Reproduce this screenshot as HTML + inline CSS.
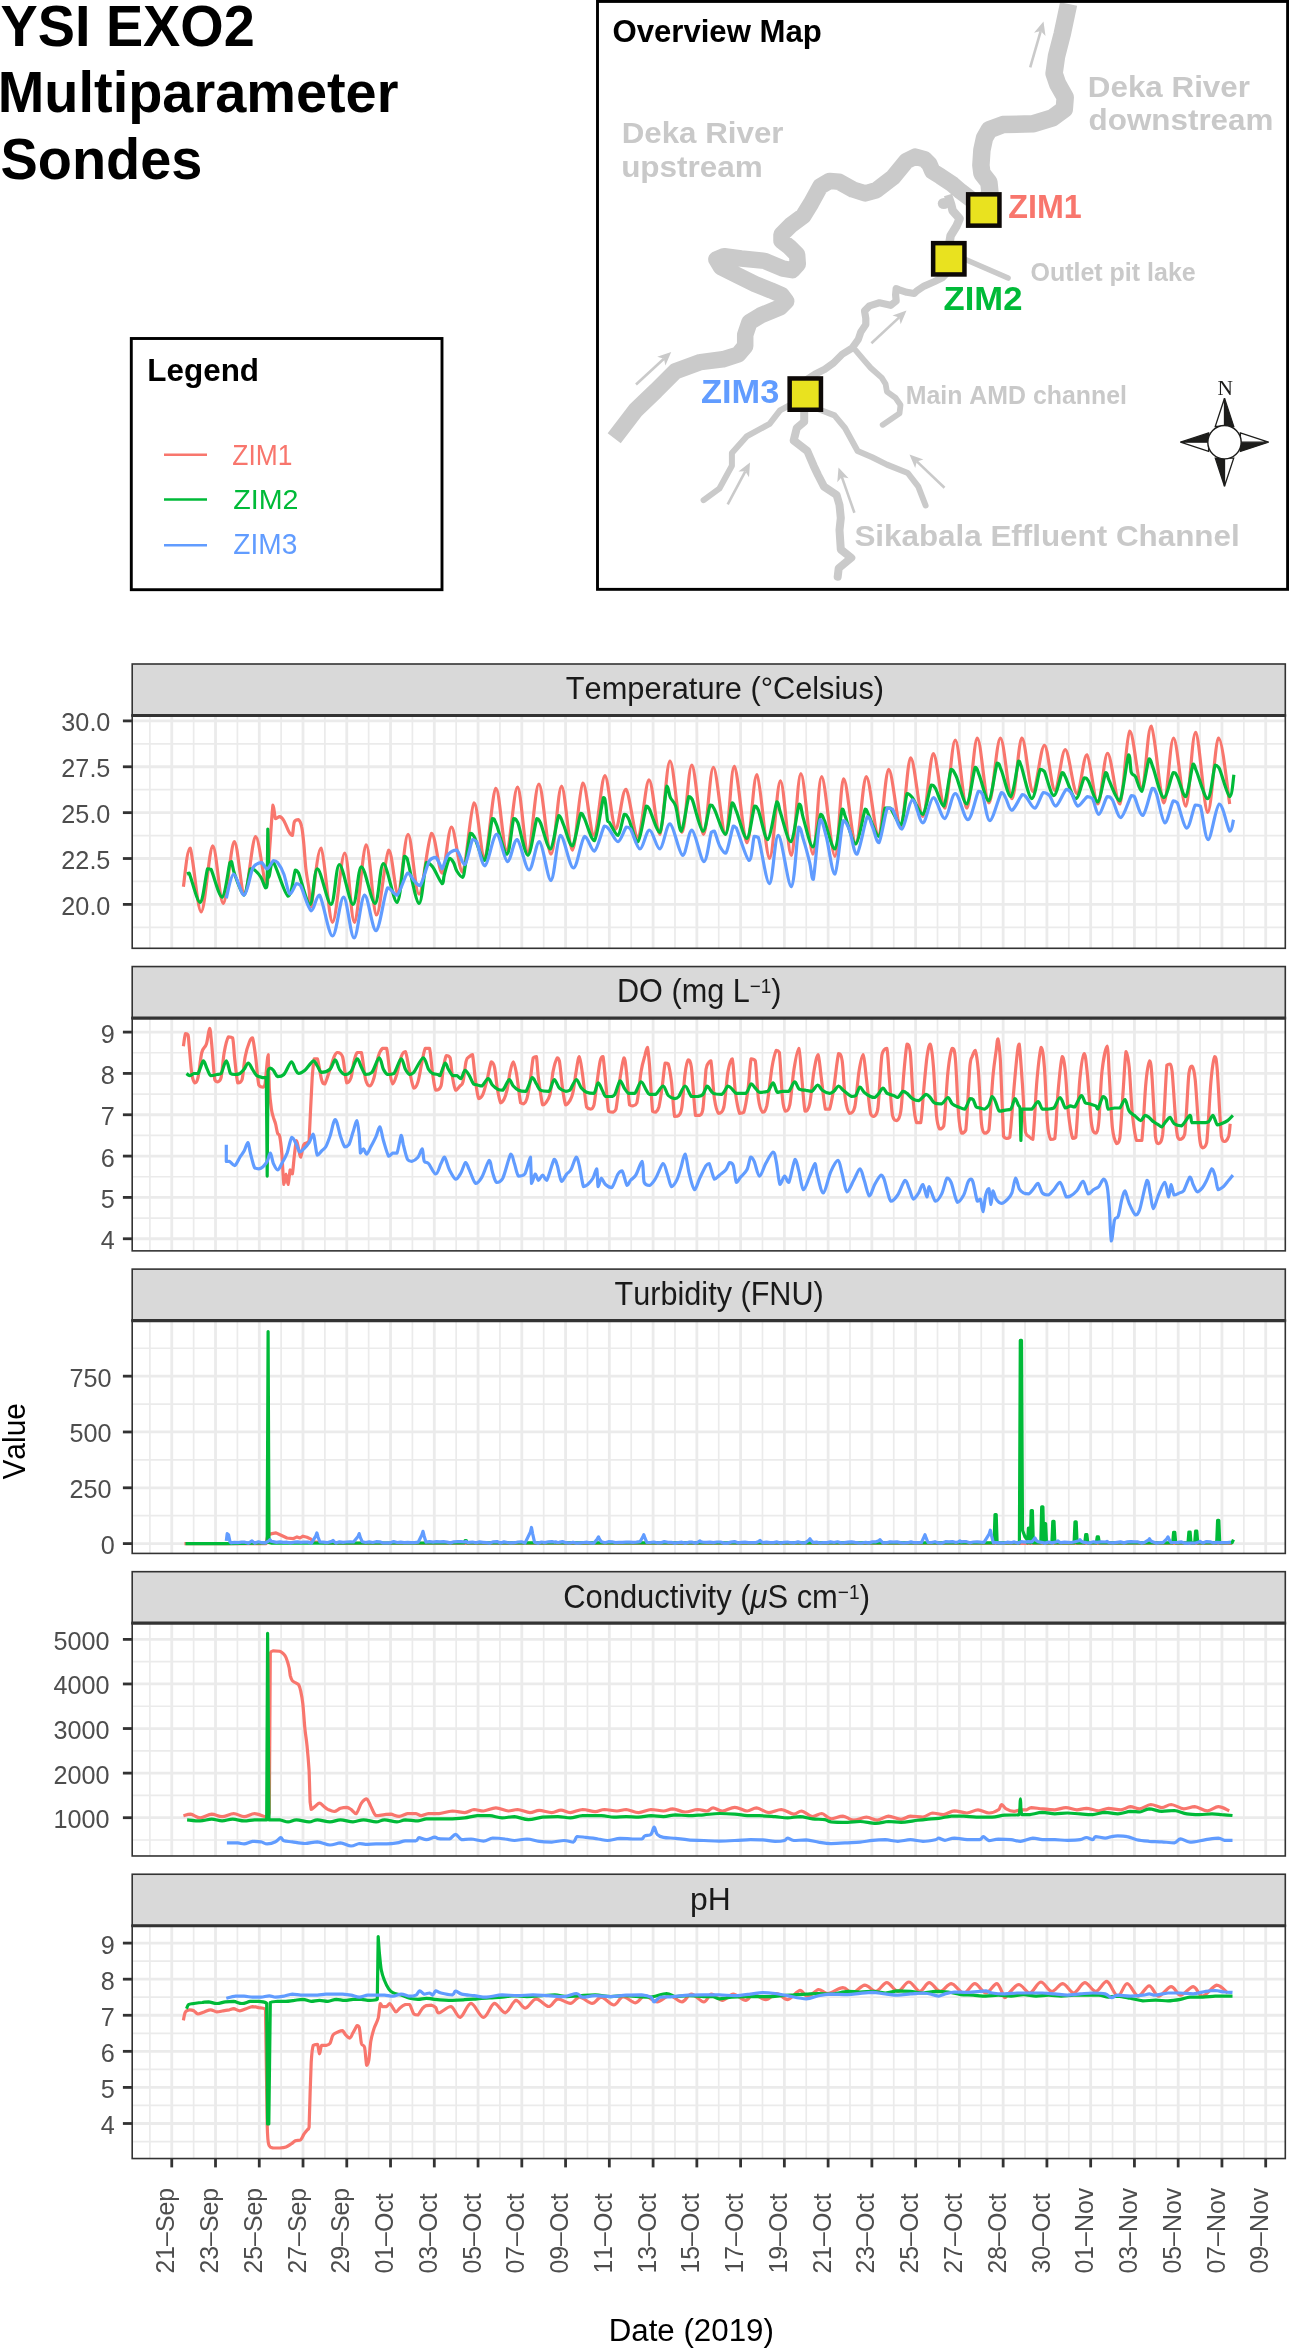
<!DOCTYPE html><html><head><meta charset="utf-8"><style>html,body{margin:0;padding:0;background:#fff;width:1289px;height:2348px;overflow:hidden}svg{display:block;will-change:transform}text{font-family:"Liberation Sans",sans-serif;font-kerning:none}</style></head><body>
<svg width="1289" height="2348" viewBox="0 0 1289 2348">
<defs>
<clipPath id="clip0"><rect x="132.20" y="715.50" width="1153.10" height="232.80"/></clipPath>
<clipPath id="clip1"><rect x="132.20" y="1018.06" width="1153.10" height="232.80"/></clipPath>
<clipPath id="clip2"><rect x="132.20" y="1320.62" width="1153.10" height="232.80"/></clipPath>
<clipPath id="clip3"><rect x="132.20" y="1623.18" width="1153.10" height="232.80"/></clipPath>
<clipPath id="clip4"><rect x="132.20" y="1925.74" width="1153.10" height="232.80"/></clipPath>
</defs>
<rect width="1289" height="2348" fill="#fff"/>
<text transform="translate(0.50,45.60) scale(1,1.040)" font-size="55.80" font-weight="bold" fill="#000" text-anchor="start" >YSI EXO2</text>
<text transform="translate(-2.20,112.40) scale(1,1.040)" font-size="55.90" font-weight="bold" fill="#000" text-anchor="start" >Multiparameter</text>
<text transform="translate(0.50,179.20) scale(1,1.040)" font-size="55.90" font-weight="bold" fill="#000" text-anchor="start" >Sondes</text>
<rect x="131.3" y="338.5" width="310.7" height="251.2" fill="none" stroke="#000" stroke-width="2.9"/>
<text transform="translate(147.30,381.30) scale(0.9967,1)" font-size="31.54" font-weight="bold" fill="#000" >Legend</text>
<line x1="164" y1="454.7" x2="207" y2="454.7" stroke="#F8766D" stroke-width="2.6"/>
<line x1="164" y1="499.5" x2="207" y2="499.5" stroke="#00BA38" stroke-width="2.6"/>
<line x1="164" y1="545.3" x2="207" y2="545.3" stroke="#619CFF" stroke-width="2.6"/>
<text transform="translate(232.26,464.90) scale(0.8773,1)" font-size="30.09" fill="#F8766D" >ZIM1</text>
<text transform="translate(233.29,508.90) scale(1.0539,1)" font-size="27.18" fill="#00BA38" >ZIM2</text>
<text transform="translate(233.31,553.90) scale(0.9574,1)" font-size="29.36" fill="#619CFF" >ZIM3</text>
<g id="map">
<path d="M614.2 438.2 L635.6 410.3 L655.9 390.8 L675.4 371.2 L700.5 362.1 L722.9 359.3 L738.2 354.5 L745.2 346.1 L745.2 334.9 L749.4 322.3 L760.6 315.4 L780.0 307.4 L786.2 301.2 L781.5 295.0 L770.7 290.3 L755.2 284.1 L736.5 274.8 L721.0 267.1 L716.4 259.3 L724.1 256.2 L741.2 258.5 L764.5 260.9 L783.1 268.6 L792.4 270.2 L797.8 264.0 L797.1 254.6 L789.3 246.9 L781.5 240.7 L781.5 234.5 L790.9 225.2 L803.3 215.9 L811.0 203.4 L820.3 186.4 L829.6 180.9 L839.0 181.7 L852.9 189.5 L865.3 193.4 L876.2 190.3 L893.1 177.3 L906.2 161.2 L915.3 156.6 L924.4 159.2 L929.4 164.2 L932.4 171.3 L940.5 176.3 L952.6 184.4 L960.7 191.4 L972.0 200.0" fill="none" stroke="#CACACA" stroke-width="16.5" stroke-linejoin="round" stroke-linecap="butt"/>
<path d="M985.0 205.0 L989.9 192.1 L988.9 182.4 L981.9 173.3 L980.9 165.2 L981.9 150.1 L984.5 138.0 L989.2 129.7 L1002.9 124.6 L1033.6 123.7 L1052.4 117.8 L1064.3 109.2 L1065.2 97.3 L1057.5 83.6 L1054.1 73.4 L1056.5 56.3 L1062.2 34.1 L1068.6 4.0" fill="none" stroke="#CACACA" stroke-width="17.5" stroke-linejoin="round" stroke-linecap="butt"/>
<path d="M948.0 195.0 L951.0 204.0 L952.6 210.6 L959.7 218.7 L956.7 225.7 L950.6 235.8 L949.6 242.0" fill="none" stroke="#CACACA" stroke-width="8.5" stroke-linejoin="round"/>
<ellipse cx="943.8" cy="203.5" rx="6" ry="5.6" fill="#CACACA"/>
<path d="M962 258 L1008.1 278.1" stroke="#CACACA" stroke-width="5.5" stroke-linecap="round" fill="none"/>
<path d="M946.0 274.0 L942.8 277.4 L934.1 281.7 L924.1 286.1 L916.7 291.0 L914.2 293.5 L906.8 292.3 L899.3 289.8 L896.2 288.6 L895.6 294.8 L896.2 301.0 L890.6 305.3 L879.4 302.8 L869.5 305.9 L864.5 310.9 L865.8 318.3 L865.8 324.5 L860.8 332.0 L858.3 339.4 L852.1 348.1 L842.2 354.3 L833.5 363.0 L824.8 369.2 L814.9 374.2 L806.0 380.0" fill="none" stroke="#CACACA" stroke-width="7.2" stroke-linejoin="round" stroke-linecap="round"/>
<path d="M855.9 350.6 L863.3 359.3 L870.8 368.0 L881.9 377.9 L885.6 384.1 L886.9 391.6 L895.6 397.8 L900.5 405.0 L899.5 413.3 L882.7 424.8" fill="none" stroke="#CACACA" stroke-width="5.8" stroke-linejoin="round" stroke-linecap="round"/>
<path d="M792.0 404.0 L780.0 410.3 L769.6 423.8 L746.6 436.4 L731.9 453.1 L731.9 465.7 L719.3 488.7 L703.6 500.2" fill="none" stroke="#CACACA" stroke-width="6.0" stroke-linejoin="round" stroke-linecap="round"/>
<path d="M804.2 410.0 L804.2 421.7 L796.8 428.0 L793.7 440.5 L807.3 451.0 L813.6 465.7 L818.0 475.0 L824.0 486.6 L836.6 495.0 L839.5 505.0 L840.8 518.0 L839.5 530.0 L840.8 549.5 L851.3 557.8 L838.7 568.3 L837.7 576.7" fill="none" stroke="#CACACA" stroke-width="8.0" stroke-linejoin="round" stroke-linecap="round"/>
<path d="M818.0 409.0 L834.5 415.4 L845.0 428.0 L857.6 451.0 L872.2 457.3 L886.9 464.6 L907.8 473.0 L918.3 486.6 L925.6 505.5" fill="none" stroke="#CACACA" stroke-width="6.0" stroke-linejoin="round" stroke-linecap="round"/>
<line x1="636.0" y1="384.5" x2="663.9" y2="358.8" stroke="#CACACA" stroke-width="2.6"/><path d="M671.2 352.0 L665.4 365.6 L663.9 358.8 L657.2 356.7Z" fill="#CACACA"/>
<line x1="1030.2" y1="67.4" x2="1040.7" y2="31.1" stroke="#CACACA" stroke-width="2.6"/><path d="M1043.5 21.5 L1045.5 36.1 L1040.7 31.1 L1034.0 32.8Z" fill="#CACACA"/>
<line x1="871.4" y1="343.2" x2="899.2" y2="317.4" stroke="#CACACA" stroke-width="2.6"/><path d="M906.5 310.6 L900.7 324.2 L899.2 317.4 L892.5 315.4Z" fill="#CACACA"/>
<line x1="727.7" y1="504.4" x2="745.3" y2="471.3" stroke="#CACACA" stroke-width="2.6"/><path d="M750.0 462.5 L749.0 477.2 L745.3 471.3 L738.4 471.6Z" fill="#CACACA"/>
<line x1="854.4" y1="512.8" x2="841.8" y2="476.9" stroke="#CACACA" stroke-width="2.6"/><path d="M838.5 467.5 L848.6 478.3 L841.8 476.9 L837.3 482.2Z" fill="#CACACA"/>
<line x1="944.5" y1="487.7" x2="916.8" y2="461.4" stroke="#CACACA" stroke-width="2.6"/><path d="M909.5 454.5 L923.4 459.4 L916.8 461.4 L915.2 468.1Z" fill="#CACACA"/>
<rect x="968.15" y="194.35" width="31.3" height="31.3" fill="#E9E21F" stroke="#0D0907" stroke-width="4.5"/>
<rect x="933.15" y="243.15" width="31.3" height="31.3" fill="#E9E21F" stroke="#0D0907" stroke-width="4.5"/>
<rect x="789.65" y="378.45" width="31.3" height="31.3" fill="#E9E21F" stroke="#0D0907" stroke-width="4.5"/>
<text transform="translate(621.71,143.10) scale(1.0508,1)" font-size="29.80" font-weight="bold" fill="#C9C9C9" >Deka River</text>
<text transform="translate(621.15,176.80) scale(1.0565,1)" font-size="29.80" font-weight="bold" fill="#C9C9C9">upstream</text>
<text transform="translate(1087.80,97.10) scale(1.0579,1)" font-size="29.65" font-weight="bold" fill="#C9C9C9" >Deka River</text>
<text transform="translate(1088.61,129.90) scale(1.0583,1)" font-size="29.65" font-weight="bold" fill="#C9C9C9">downstream</text>
<text transform="translate(1030.47,280.80) scale(0.9941,1)" font-size="25.15" font-weight="bold" fill="#C9C9C9" >Outlet pit lake</text>
<text transform="translate(905.73,404.40) scale(0.9569,1)" font-size="26.02" font-weight="bold" fill="#C9C9C9" >Main AMD channel</text>
<text transform="translate(854.40,546.00) scale(1.0585,1)" font-size="29.65" font-weight="bold" fill="#C9C9C9" >Sikabala Effluent Channel</text>
<text transform="translate(1008.24,217.80) scale(0.9831,1)" font-size="32.85" font-weight="bold" fill="#F8766D" >ZIM1</text>
<text transform="translate(943.57,310.40) scale(1.0641,1)" font-size="32.56" font-weight="bold" fill="#00BA38" >ZIM2</text>
<text transform="translate(700.98,403.00) scale(1.0520,1)" font-size="32.70" font-weight="bold" fill="#619CFF" >ZIM3</text>
<path d="M1224.50 398.20 L1233.70 426.30 L1224.50 426.30Z" fill="#1D1D1B" stroke="#1D1D1B" stroke-width="1.3" stroke-linejoin="miter"/>
<path d="M1224.50 398.20 L1215.30 426.30 L1224.50 426.30Z" fill="#fff" stroke="#1D1D1B" stroke-width="1.3" stroke-linejoin="miter"/>
<path d="M1268.50 442.20 L1240.40 451.40 L1240.40 442.20Z" fill="#1D1D1B" stroke="#1D1D1B" stroke-width="1.3" stroke-linejoin="miter"/>
<path d="M1268.50 442.20 L1240.40 433.00 L1240.40 442.20Z" fill="#fff" stroke="#1D1D1B" stroke-width="1.3" stroke-linejoin="miter"/>
<path d="M1224.50 486.20 L1215.30 458.10 L1224.50 458.10Z" fill="#1D1D1B" stroke="#1D1D1B" stroke-width="1.3" stroke-linejoin="miter"/>
<path d="M1224.50 486.20 L1233.70 458.10 L1224.50 458.10Z" fill="#fff" stroke="#1D1D1B" stroke-width="1.3" stroke-linejoin="miter"/>
<path d="M1180.50 442.20 L1208.60 433.00 L1208.60 442.20Z" fill="#1D1D1B" stroke="#1D1D1B" stroke-width="1.3" stroke-linejoin="miter"/>
<path d="M1180.50 442.20 L1208.60 451.40 L1208.60 442.20Z" fill="#fff" stroke="#1D1D1B" stroke-width="1.3" stroke-linejoin="miter"/>
<circle cx="1224.5" cy="442.2" r="16.7" fill="#fff" stroke="#1D1D1B" stroke-width="1.4"/>
<text x="1217.6" y="394.9" style="font-family:&quot;Liberation Serif&quot;,serif" font-size="21.4" fill="#1D1D1B">N</text>
<rect x="597.5" y="1.45" width="690.1" height="587.9" fill="none" stroke="#000" stroke-width="2.9"/>
<text transform="translate(612.42,42.30) scale(0.9829,1)" font-size="31.69" font-weight="bold" fill="#000" >Overview Map</text>
</g>
<rect x="132.20" y="664.00" width="1153.10" height="51.50" fill="#D9D9D9" stroke="#333333" stroke-width="1.6"/>
<text transform="translate(565.81,699.10) scale(0.9708,1)" font-size="31.69" fill="#1A1A1A" >Temperature (°Celsius)</text>
<rect x="132.20" y="715.50" width="1153.10" height="232.80" fill="#fff"/>
<path d="M132.2 743.84H1285.3M132.2 789.71H1285.3M132.2 835.59H1285.3M132.2 881.46H1285.3M132.2 927.34H1285.3M149.87 715.5V948.3M193.63 715.5V948.3M237.39 715.5V948.3M281.14 715.5V948.3M324.90 715.5V948.3M368.66 715.5V948.3M412.42 715.5V948.3M456.18 715.5V948.3M499.93 715.5V948.3M543.69 715.5V948.3M587.45 715.5V948.3M631.21 715.5V948.3M674.97 715.5V948.3M718.72 715.5V948.3M762.48 715.5V948.3M806.24 715.5V948.3M850.00 715.5V948.3M893.76 715.5V948.3M937.51 715.5V948.3M981.27 715.5V948.3M1025.03 715.5V948.3M1068.79 715.5V948.3M1112.55 715.5V948.3M1156.30 715.5V948.3M1200.06 715.5V948.3M1243.82 715.5V948.3" stroke="#EBEBEB" stroke-width="1.7" fill="none"/>
<path d="M132.2 720.90H1285.3M132.2 766.77H1285.3M132.2 812.65H1285.3M132.2 858.52H1285.3M132.2 904.40H1285.3M171.75 715.5V948.3M215.51 715.5V948.3M259.27 715.5V948.3M303.02 715.5V948.3M346.78 715.5V948.3M390.54 715.5V948.3M434.30 715.5V948.3M478.06 715.5V948.3M521.81 715.5V948.3M565.57 715.5V948.3M609.33 715.5V948.3M653.09 715.5V948.3M696.85 715.5V948.3M740.60 715.5V948.3M784.36 715.5V948.3M828.12 715.5V948.3M871.88 715.5V948.3M915.64 715.5V948.3M959.39 715.5V948.3M1003.15 715.5V948.3M1046.91 715.5V948.3M1090.67 715.5V948.3M1134.43 715.5V948.3M1178.18 715.5V948.3M1221.94 715.5V948.3M1265.70 715.5V948.3" stroke="#EBEBEB" stroke-width="2.8" fill="none"/>
<g clip-path="url(#clip0)" fill="none" stroke-width="3.2" stroke-linejoin="round" stroke-linecap="butt">
<path d="M183.4 886.7C184.5 880.3 187.1 848.0 190.1 848.0C193.0 852.2 197.4 911.9 201.2 911.9C205.0 911.5 209.0 847.3 212.7 845.9C216.4 845.9 219.6 903.5 223.2 903.5C226.8 902.8 230.7 843.3 234.3 841.7C237.8 841.7 241.0 894.1 244.5 894.1C248.1 893.2 252.0 837.9 255.6 836.5C259.2 836.5 263.8 883.8 266.1 885.7C268.5 885.7 268.5 861.4 269.7 848.0C270.8 834.5 272.1 809.9 273.0 805.0C274.0 805.0 274.4 816.7 275.5 818.7C276.7 818.7 278.3 816.6 279.7 816.6C281.1 816.9 282.4 818.1 283.9 820.7C285.5 823.4 287.8 829.8 289.2 832.3C290.6 834.7 291.4 835.4 292.3 835.4C293.2 833.7 293.3 824.4 294.4 821.8C295.4 819.7 297.4 819.7 298.6 819.7C299.8 820.6 300.9 823.0 301.7 827.0C302.6 831.0 303.1 836.8 303.8 843.8C304.5 850.8 305.0 861.2 305.9 868.9C306.8 876.6 308.2 883.6 309.1 889.9C309.9 896.2 309.2 906.6 311.2 906.6C313.1 899.6 317.4 848.0 321.0 848.0C324.6 850.6 328.6 921.5 332.5 922.3C336.5 922.3 341.0 853.2 344.7 853.2C348.3 853.2 350.9 922.3 354.5 922.3C358.1 920.9 362.6 846.1 366.2 844.8C369.9 844.8 372.8 914.1 376.5 915.0C380.2 915.0 385.1 853.6 388.7 850.1C392.2 850.1 394.8 894.1 398.1 894.1C401.3 891.4 404.6 834.4 408.1 834.4C411.6 834.4 415.1 894.1 419.0 894.1C422.9 893.9 427.8 836.8 431.6 833.3C435.4 833.3 438.7 873.1 442.1 873.1C445.4 872.1 448.1 827.2 451.5 827.0C454.9 827.0 458.9 872.1 462.6 872.1C466.4 868.0 470.5 805.2 474.1 802.9C477.8 802.9 481.0 858.4 484.6 858.4C488.2 856.0 492.3 789.7 495.9 788.3C499.6 788.3 503.0 850.1 506.6 850.1C510.2 849.9 513.9 787.2 517.5 787.2C521.1 787.6 524.4 852.2 528.0 852.2C531.5 851.6 535.0 784.1 538.9 784.1C542.7 784.4 547.2 853.9 551.0 854.2C554.8 854.2 557.9 786.9 561.5 786.2C565.1 786.2 568.8 850.1 572.4 850.1C575.9 849.5 579.3 785.5 582.9 783.0C586.5 783.0 590.3 835.4 594.0 835.4C597.6 834.2 601.3 776.7 604.8 775.7C608.4 775.7 612.0 826.8 615.5 829.1C619.0 829.1 622.1 789.3 625.8 789.3C629.5 790.7 634.1 837.5 637.9 837.5C641.8 835.9 645.4 780.4 649.0 779.9C652.7 779.9 656.4 834.3 659.9 834.3C663.4 831.2 666.3 761.4 670.0 761.0C673.7 761.0 678.3 831.6 681.9 832.3C685.6 832.3 688.2 765.2 691.8 765.2C695.4 765.6 699.9 834.0 703.5 834.3C707.1 834.3 709.7 767.3 713.4 767.3C717.0 767.3 722.0 834.3 725.5 834.3C729.0 834.2 730.8 766.3 734.3 766.3C737.9 767.7 743.1 841.3 746.9 842.7C750.7 842.7 753.2 774.7 756.9 774.7C760.7 777.3 765.6 857.4 769.5 858.4C773.4 858.4 776.8 781.5 780.4 780.9C784.0 780.9 787.9 855.3 791.3 855.3C794.7 854.1 797.3 773.8 800.9 773.6C804.5 773.6 809.4 853.7 812.9 854.2C816.3 854.2 818.0 776.7 821.7 776.7C825.3 777.1 831.2 856.0 834.9 856.3C838.5 856.3 840.2 780.9 843.7 778.8C847.2 778.8 852.0 843.8 855.8 843.8C859.6 843.4 862.5 778.1 866.3 776.7C870.1 776.7 874.7 835.4 878.4 835.4C882.2 834.2 885.0 770.8 888.7 769.4C892.4 769.4 897.2 827.0 900.8 827.0C904.5 825.1 907.0 759.6 910.7 757.9C914.4 757.9 919.1 816.5 922.8 816.5C926.6 815.8 929.7 755.1 933.3 753.7C937.0 753.7 941.2 808.2 944.8 808.2C948.5 805.9 951.6 740.1 955.3 740.1C959.0 740.1 963.2 808.2 966.8 808.2C970.5 807.8 973.7 738.9 977.3 738.0C981.0 738.0 985.0 802.9 988.9 802.9C992.7 802.9 996.5 738.7 1000.4 738.0C1004.2 738.0 1008.3 798.7 1011.9 798.7C1015.5 798.7 1018.5 739.2 1021.9 738.0C1025.4 738.0 1029.1 790.2 1032.8 791.4C1036.6 791.4 1040.7 745.5 1044.4 745.3C1048.0 745.3 1051.3 789.7 1054.8 790.4C1058.3 790.4 1061.6 749.5 1065.3 749.5C1069.0 750.0 1073.2 792.6 1076.8 793.5C1080.4 793.5 1083.4 754.8 1086.9 754.8C1090.4 756.5 1094.3 804.0 1097.8 804.0C1101.2 803.7 1104.0 753.3 1107.6 753.3C1111.3 753.3 1116.1 804.0 1119.8 804.0C1123.5 800.3 1126.2 733.7 1129.8 731.1C1133.5 731.1 1138.2 788.3 1141.8 788.3C1145.3 787.4 1147.5 726.1 1151.2 726.1C1154.9 728.5 1160.0 800.9 1163.8 802.9C1167.5 802.9 1169.9 738.0 1173.6 738.0C1177.3 738.5 1182.1 806.1 1185.7 806.1C1189.4 805.1 1191.9 732.3 1195.6 732.3C1199.3 733.4 1203.9 811.4 1207.7 812.4C1211.6 812.4 1215.0 739.4 1218.6 738.0C1222.3 738.0 1227.9 793.0 1229.7 804.0" stroke="#F8766D"/>
<path d="M187.1 874.2C187.5 874.0 187.1 873.1 189.2 873.1C191.4 877.8 197.1 902.4 200.1 902.4C203.2 901.7 205.7 874.4 207.5 868.9C209.3 868.9 208.6 868.9 211.0 869.3C213.5 874.1 219.0 897.2 222.1 897.2C225.3 896.1 228.3 868.6 229.9 862.6C231.5 861.6 230.8 861.6 231.6 861.6C232.4 863.5 232.6 868.6 234.7 874.2C236.8 879.7 241.5 895.1 244.1 895.1C246.7 894.2 248.7 873.1 250.4 868.9C252.2 868.9 252.9 868.9 254.6 870.0C256.3 871.4 259.1 874.3 260.9 877.3C262.7 880.3 264.4 886.7 265.5 887.8C266.5 887.8 266.8 887.8 267.2 883.6L267.8 829.1L268.8 877.3C269.8 877.3 270.2 862.6 273.4 862.6C276.7 865.8 284.4 894.9 288.1 896.2C291.8 896.2 293.7 873.8 295.4 870.0C297.2 870.0 296.1 870.0 298.6 873.1C301.0 878.9 307.0 904.5 310.1 904.5C313.2 903.8 313.9 868.9 317.4 868.9C320.9 868.9 327.4 904.5 331.1 904.5C334.7 903.8 335.8 864.7 339.4 864.7C343.1 864.7 349.4 904.2 353.0 904.5C356.7 904.5 357.8 867.0 361.4 866.8C365.1 866.8 371.4 903.5 375.0 903.5C378.7 903.0 379.8 863.9 383.4 863.7C387.1 863.7 393.5 902.4 397.0 902.4C400.5 901.2 402.7 863.7 404.4 856.4C406.0 856.4 404.6 856.4 407.1 858.4C409.5 866.3 415.8 902.8 419.0 903.5C422.2 903.5 424.1 868.7 426.4 862.6C428.6 862.6 430.0 863.3 432.6 866.8C435.3 870.3 440.1 882.2 442.1 883.6C444.0 883.6 443.0 879.4 444.2 875.2C445.4 871.0 447.9 860.5 449.4 858.4C451.0 858.4 452.4 860.5 453.6 862.6C454.8 864.7 455.3 868.6 456.8 871.0C458.3 873.4 461.2 877.3 462.6 877.3C464.0 876.6 463.8 874.1 465.1 866.8C466.4 859.5 468.8 838.2 470.4 833.3C471.9 833.3 472.2 833.3 474.6 837.5C476.9 842.0 481.6 860.5 484.6 860.5C487.6 857.4 490.4 824.6 492.4 818.6C494.4 818.6 494.1 819.0 496.6 824.9C499.0 830.9 504.2 854.2 507.0 854.2C509.9 853.2 511.9 823.9 513.7 818.6C515.5 818.6 515.5 818.6 517.9 822.8C520.3 828.9 524.8 855.3 528.0 855.3C531.1 854.6 534.7 824.0 536.8 818.6C538.9 818.6 538.3 818.6 540.5 822.8C542.8 827.9 547.4 849.0 550.4 849.0C553.4 847.8 556.6 819.5 558.8 815.5C561.0 815.5 561.3 819.9 563.6 824.9C565.9 830.0 569.5 845.9 572.4 845.9C575.2 843.9 578.7 817.9 580.8 813.4C582.8 813.4 582.3 814.1 584.5 818.6C586.8 823.2 591.2 840.6 594.4 840.6C597.5 837.1 601.5 804.0 603.4 797.7C605.2 797.7 604.8 799.1 605.5 802.9C606.2 806.8 606.9 817.4 607.6 820.7C608.3 822.8 607.9 820.7 609.7 822.8C611.4 825.3 615.6 835.4 618.0 835.4C620.5 834.0 622.6 817.2 624.3 814.4C626.1 814.4 626.2 814.4 628.5 818.6C630.8 823.2 635.0 841.7 637.9 841.7C640.9 839.6 644.4 811.5 646.3 806.1C648.2 806.1 647.2 806.1 649.5 809.2C651.7 813.6 657.0 832.3 659.9 832.3C662.8 828.4 665.1 791.9 666.9 786.2C668.6 786.2 668.9 794.4 670.4 797.7C671.9 801.0 673.8 800.5 675.6 806.1C677.5 811.7 679.1 831.2 681.3 831.2C683.5 829.6 687.0 801.9 688.8 796.6C690.7 796.6 690.1 796.6 692.4 799.8C694.7 805.5 699.9 830.3 702.9 831.2C705.9 831.2 708.3 808.7 710.2 805.0C712.2 805.0 711.9 805.0 714.4 809.2C717.0 814.1 722.6 834.3 725.5 834.3C728.5 833.3 730.4 806.8 732.2 802.9C734.0 802.9 734.0 805.4 736.4 811.3C738.9 817.2 743.9 838.5 746.9 838.5C749.9 837.7 752.7 810.8 754.6 806.1C756.6 806.1 756.2 806.1 758.4 810.3C760.6 815.8 764.8 839.6 767.8 839.6C770.9 838.2 774.8 806.4 776.8 801.9C778.9 801.9 778.1 805.7 780.4 812.4C782.7 819.0 787.7 841.7 790.9 841.7C794.0 840.3 797.2 807.8 799.3 804.0C801.4 804.0 801.2 811.5 803.4 818.6C805.7 825.8 810.0 846.9 812.9 846.9C815.7 846.2 818.7 818.8 820.6 814.4C822.5 814.4 822.0 815.0 824.4 820.7C826.8 826.5 831.9 849.0 834.9 849.0C837.8 847.1 840.5 814.6 842.2 809.2C843.9 809.2 843.1 810.8 845.3 816.5C847.6 822.3 852.5 843.8 855.8 843.8C859.1 842.6 863.1 814.1 865.2 809.2C867.3 809.2 866.1 809.9 868.4 814.4C870.7 819.0 876.1 836.4 878.9 836.4C881.6 835.4 883.2 812.9 885.1 808.2C887.1 808.2 887.8 808.2 890.4 808.2C893.0 811.0 898.1 824.9 900.8 824.9C903.6 822.5 905.2 798.0 907.1 793.5C909.1 793.5 909.8 794.2 912.4 797.7C915.0 801.2 919.7 814.4 922.8 814.4C926.0 812.4 929.1 789.5 931.2 785.1C933.3 785.1 933.3 785.1 935.4 788.3C937.5 791.8 941.2 806.1 943.8 806.1C946.4 802.9 949.0 774.3 951.1 769.4C953.2 769.4 953.7 771.0 956.4 776.7C959.0 782.5 963.7 804.0 966.8 804.0C970.0 802.4 973.1 772.0 975.2 767.3C977.3 767.3 977.2 770.1 979.4 775.7C981.7 781.3 985.9 800.8 988.9 800.8C991.8 798.7 995.1 768.2 997.2 763.1C999.3 763.1 999.2 764.9 1001.4 770.5C1003.7 776.0 1008.0 796.6 1010.8 796.6C1013.7 795.1 1016.9 766.1 1018.6 761.0C1020.3 761.0 1019.1 761.0 1021.3 766.3C1023.5 772.6 1028.7 798.2 1031.8 798.7C1034.9 798.7 1038.1 774.0 1040.2 769.4C1042.3 769.4 1042.1 769.4 1044.4 771.5C1046.6 775.9 1050.8 795.4 1053.8 795.6C1056.8 795.6 1060.2 775.7 1062.2 772.6C1064.1 772.6 1063.0 772.6 1065.3 776.7C1067.6 781.1 1072.6 798.6 1075.8 798.7C1078.9 798.7 1082.1 780.8 1084.2 777.8C1086.3 777.8 1086.1 777.8 1088.3 780.9C1090.6 784.9 1094.9 801.9 1097.8 801.9C1100.7 800.5 1103.8 776.0 1105.7 772.6C1107.7 772.6 1107.0 776.2 1109.3 780.9C1111.6 785.6 1116.6 800.8 1119.8 800.8C1123.0 796.5 1126.6 759.5 1128.6 754.8C1130.5 754.8 1130.1 768.9 1131.3 772.6C1132.4 776.2 1133.7 773.6 1135.5 776.7C1137.2 779.9 1139.5 791.4 1141.8 791.4C1144.0 788.4 1147.2 762.8 1149.1 758.9C1151.0 758.9 1150.8 761.9 1153.3 768.4C1155.7 774.8 1160.4 797.0 1163.8 797.7C1167.1 797.7 1170.9 776.0 1173.2 772.6C1175.4 772.6 1175.3 772.7 1177.4 776.7C1179.5 780.8 1183.1 796.6 1185.7 796.6C1188.4 794.5 1191.3 768.5 1193.1 764.2C1194.8 764.2 1193.8 764.7 1196.2 770.5C1198.7 776.2 1204.6 798.7 1207.7 798.7C1210.9 797.9 1213.2 770.3 1215.1 765.2C1217.0 765.2 1216.8 765.2 1219.3 768.4C1221.7 773.6 1227.3 795.6 1229.7 796.6C1232.2 796.6 1233.2 778.3 1233.9 774.7" stroke="#00BA38"/>
<path d="M226.3 898.2C227.5 894.2 230.7 874.7 233.7 874.2C236.6 874.2 241.0 895.1 244.1 895.1C247.3 894.2 250.2 874.2 252.5 868.9C254.8 863.7 256.2 864.7 257.7 863.7C259.3 862.6 260.4 862.6 261.9 862.6C263.5 863.5 265.2 868.9 267.2 868.9C269.1 868.6 271.7 861.6 273.4 860.5C275.2 860.5 275.9 860.5 277.6 862.6C279.4 864.9 281.9 868.9 283.9 874.2C285.9 879.4 287.7 892.5 289.8 894.1C291.9 894.1 294.7 885.0 296.5 883.6C298.3 883.6 298.2 883.6 300.7 885.7C303.1 890.2 308.0 909.2 311.2 910.8C314.3 910.8 316.0 895.1 319.5 895.1C323.1 899.3 328.5 935.6 332.5 936.0C336.5 936.0 340.0 897.2 343.6 897.2C347.2 897.5 350.6 938.0 354.1 938.0C357.6 937.7 360.9 896.3 364.6 895.1C368.2 895.1 372.2 930.7 376.1 930.7C379.9 929.5 384.1 893.7 387.6 887.8C391.1 887.8 393.7 895.1 397.0 895.1C400.3 892.7 404.7 875.6 407.5 873.1C410.3 873.1 411.7 878.3 413.8 880.4C415.9 882.5 417.5 885.7 420.1 885.7C422.7 882.4 426.9 865.3 429.5 860.5C432.1 857.4 433.7 857.4 435.8 857.4C437.9 858.8 440.8 867.4 442.1 868.9L443.1 866.8C444.2 864.4 446.1 857.0 448.4 854.2C450.6 851.5 454.0 850.1 456.8 850.1C459.5 851.8 462.1 864.7 464.7 864.7C467.3 863.0 470.5 843.4 472.5 839.6C474.5 839.6 474.6 839.6 476.7 841.7C478.8 846.0 481.7 865.8 485.0 865.8C488.4 864.5 492.8 835.0 496.6 834.3C500.3 834.3 504.0 860.7 507.4 861.6C510.9 861.6 513.5 839.6 517.1 839.6C520.7 841.0 525.3 869.6 529.0 870.0C532.8 870.0 535.8 841.7 539.5 841.7C543.2 843.4 547.5 880.4 551.0 880.4C554.5 879.4 556.7 837.5 560.4 835.4C564.2 835.4 569.4 867.7 573.4 867.9C577.4 867.9 581.0 839.2 584.5 836.4C588.0 836.4 591.1 851.1 594.4 851.1C597.7 849.4 601.9 829.5 604.4 826.0C607.0 826.0 607.4 827.5 609.7 830.2C611.9 832.8 615.3 841.7 618.0 841.7C620.8 841.2 624.3 829.1 626.4 827.0C628.5 827.0 628.3 827.0 630.6 829.1C632.9 832.8 636.9 848.8 640.0 849.0C643.2 849.0 646.1 830.2 649.5 830.2C652.8 830.2 656.5 849.0 659.9 849.0C663.4 848.0 666.2 823.9 670.0 823.9C673.8 824.9 678.9 854.2 682.6 855.3C686.2 855.3 688.4 830.2 692.0 830.2C695.5 831.2 700.7 861.2 703.9 861.6C707.1 861.6 709.5 837.3 711.3 832.3C713.0 831.2 713.0 831.2 714.4 831.2C715.8 833.5 717.7 842.2 719.7 845.9C721.6 849.5 723.7 853.2 725.9 853.2C728.2 849.9 731.5 830.2 733.3 826.0C735.0 826.0 733.8 826.0 736.4 828.1C739.0 833.8 746.0 859.1 749.0 860.5C752.0 860.5 752.7 840.3 754.2 836.4C755.8 836.4 755.9 836.4 758.4 837.5C761.0 845.3 766.2 883.6 769.5 883.6C772.8 883.2 774.7 835.4 778.3 835.4C781.9 835.9 787.9 886.7 791.3 886.7C794.7 885.3 796.8 834.9 798.8 827.0C800.9 827.0 801.6 833.6 803.4 839.6C805.3 845.5 808.1 856.0 809.7 862.6C811.4 869.3 811.5 879.4 813.3 879.4C815.0 872.2 818.0 826.7 820.2 819.7C822.4 819.7 824.0 828.4 826.5 837.5C828.9 846.6 832.1 874.1 834.9 874.1C837.7 871.4 840.8 828.1 843.2 820.7C845.7 820.7 847.3 824.6 849.5 830.2C851.8 835.7 853.9 854.2 856.9 854.2C859.8 852.0 864.7 821.1 867.3 816.5C870.0 816.5 870.7 822.7 872.6 827.0C874.5 831.4 876.4 842.7 878.9 842.7C881.3 839.6 885.0 813.8 887.2 808.2C889.5 808.2 890.0 808.2 892.5 809.2C894.9 812.7 898.6 829.1 901.9 829.1C905.2 827.5 908.9 800.8 912.4 799.8C915.9 799.8 919.4 822.8 922.8 822.8C926.3 822.5 929.7 798.4 933.3 797.7C937.0 797.7 941.2 818.6 944.8 818.6C948.5 817.9 951.5 793.5 955.3 793.5C959.2 793.7 964.0 819.7 967.9 819.7C971.7 819.3 975.9 795.6 978.4 791.4C980.8 791.4 980.6 791.4 982.6 794.5C984.5 799.4 986.8 820.7 989.9 820.7C993.0 820.4 998.8 796.3 1001.4 792.5C1004.0 792.5 1003.9 794.7 1005.6 797.7C1007.4 800.7 1009.1 810.3 1011.9 810.3C1014.7 809.7 1019.9 796.6 1022.4 794.5C1024.8 794.5 1024.5 795.4 1026.6 797.7C1028.7 800.0 1032.1 808.2 1034.9 808.2C1037.7 807.3 1040.9 794.5 1043.3 792.5C1045.8 792.5 1047.5 793.3 1049.6 795.6C1051.7 797.9 1053.1 806.1 1055.9 806.1C1058.7 805.0 1063.7 791.4 1066.4 789.3C1069.0 789.3 1069.7 790.7 1071.6 793.5C1073.5 796.3 1075.3 805.5 1077.9 806.1C1080.5 806.1 1084.9 797.9 1087.3 796.6C1089.7 796.6 1090.6 796.6 1092.5 798.7C1094.5 801.7 1096.4 814.4 1098.8 814.4C1101.3 814.1 1104.9 799.1 1107.2 796.6C1109.5 796.6 1110.2 796.6 1112.4 799.8C1114.7 803.3 1117.7 817.6 1120.8 817.6C1124.0 816.9 1129.0 799.1 1131.3 795.6C1133.6 795.6 1132.5 795.6 1134.4 796.6C1136.3 800.0 1139.8 815.5 1142.8 815.5C1145.8 814.1 1150.0 791.9 1152.2 788.3C1154.5 788.3 1154.3 788.3 1156.4 793.5C1158.5 799.3 1162.0 821.6 1164.8 822.8C1167.6 822.8 1171.1 804.1 1173.2 800.8C1175.3 800.8 1175.1 800.8 1177.4 802.9C1179.6 807.5 1183.8 827.7 1186.8 828.1C1189.8 828.1 1192.9 808.7 1195.2 805.0C1197.4 805.0 1198.2 805.0 1200.4 806.1C1202.6 811.8 1205.0 839.6 1208.2 839.6C1211.3 839.2 1215.7 805.4 1219.3 804.0C1222.9 804.0 1227.4 828.6 1229.7 831.2C1232.1 831.2 1232.9 821.6 1233.5 819.7" stroke="#619CFF"/>
</g>
<rect x="132.20" y="715.50" width="1153.10" height="232.80" fill="none" stroke="#333333" stroke-width="1.6"/>
<line x1="131.40" y1="715.50" x2="1286.10" y2="715.50" stroke="#333333" stroke-width="3.2"/>
<line x1="122.9" y1="720.90" x2="132.20" y2="720.90" stroke="#333333" stroke-width="2.8"/>
<text x="110.40" y="731.40" font-size="25.2" fill="#4D4D4D" text-anchor="end">30.0</text>
<line x1="122.9" y1="766.77" x2="132.20" y2="766.77" stroke="#333333" stroke-width="2.8"/>
<text x="110.40" y="777.27" font-size="25.2" fill="#4D4D4D" text-anchor="end">27.5</text>
<line x1="122.9" y1="812.65" x2="132.20" y2="812.65" stroke="#333333" stroke-width="2.8"/>
<text x="110.40" y="823.15" font-size="25.2" fill="#4D4D4D" text-anchor="end">25.0</text>
<line x1="122.9" y1="858.52" x2="132.20" y2="858.52" stroke="#333333" stroke-width="2.8"/>
<text x="110.40" y="869.02" font-size="25.2" fill="#4D4D4D" text-anchor="end">22.5</text>
<line x1="122.9" y1="904.40" x2="132.20" y2="904.40" stroke="#333333" stroke-width="2.8"/>
<text x="110.40" y="914.90" font-size="25.2" fill="#4D4D4D" text-anchor="end">20.0</text>
<rect x="132.20" y="966.56" width="1153.10" height="51.50" fill="#D9D9D9" stroke="#333333" stroke-width="1.6"/>
<text transform="translate(617.0,1002.2) scale(0.946,1)" font-size="32.4" fill="#1A1A1A">DO (mg L<tspan dy="-9" font-size="20">−1</tspan><tspan dy="9">)</tspan></text>
<rect x="132.20" y="1018.06" width="1153.10" height="232.80" fill="#fff"/>
<path d="M132.2 1052.76H1285.3M132.2 1094.09H1285.3M132.2 1135.42H1285.3M132.2 1176.75H1285.3M132.2 1218.08H1285.3M149.87 1018.1V1250.9M193.63 1018.1V1250.9M237.39 1018.1V1250.9M281.14 1018.1V1250.9M324.90 1018.1V1250.9M368.66 1018.1V1250.9M412.42 1018.1V1250.9M456.18 1018.1V1250.9M499.93 1018.1V1250.9M543.69 1018.1V1250.9M587.45 1018.1V1250.9M631.21 1018.1V1250.9M674.97 1018.1V1250.9M718.72 1018.1V1250.9M762.48 1018.1V1250.9M806.24 1018.1V1250.9M850.00 1018.1V1250.9M893.76 1018.1V1250.9M937.51 1018.1V1250.9M981.27 1018.1V1250.9M1025.03 1018.1V1250.9M1068.79 1018.1V1250.9M1112.55 1018.1V1250.9M1156.30 1018.1V1250.9M1200.06 1018.1V1250.9M1243.82 1018.1V1250.9" stroke="#EBEBEB" stroke-width="1.7" fill="none"/>
<path d="M132.2 1032.10H1285.3M132.2 1073.43H1285.3M132.2 1114.76H1285.3M132.2 1156.09H1285.3M132.2 1197.42H1285.3M132.2 1238.75H1285.3M171.75 1018.1V1250.9M215.51 1018.1V1250.9M259.27 1018.1V1250.9M303.02 1018.1V1250.9M346.78 1018.1V1250.9M390.54 1018.1V1250.9M434.30 1018.1V1250.9M478.06 1018.1V1250.9M521.81 1018.1V1250.9M565.57 1018.1V1250.9M609.33 1018.1V1250.9M653.09 1018.1V1250.9M696.85 1018.1V1250.9M740.60 1018.1V1250.9M784.36 1018.1V1250.9M828.12 1018.1V1250.9M871.88 1018.1V1250.9M915.64 1018.1V1250.9M959.39 1018.1V1250.9M1003.15 1018.1V1250.9M1046.91 1018.1V1250.9M1090.67 1018.1V1250.9M1134.43 1018.1V1250.9M1178.18 1018.1V1250.9M1221.94 1018.1V1250.9M1265.70 1018.1V1250.9" stroke="#EBEBEB" stroke-width="2.8" fill="none"/>
<g clip-path="url(#clip1)" fill="none" stroke-width="3.2" stroke-linejoin="round" stroke-linecap="butt">
<path d="M183.4 1046.2C183.7 1044.1 184.7 1035.6 185.5 1033.7C186.2 1033.7 187.4 1033.7 188.0 1034.7C188.6 1036.8 188.6 1039.8 189.2 1046.2C189.9 1052.7 190.8 1067.4 191.8 1073.5C192.7 1079.6 193.9 1082.2 194.9 1082.9C195.9 1082.9 196.9 1082.7 198.0 1077.7C199.2 1072.6 200.4 1058.1 201.8 1052.5C203.2 1046.9 205.1 1048.2 206.4 1044.1C207.7 1040.1 208.7 1028.4 209.6 1028.4C210.4 1028.4 210.8 1035.6 211.7 1044.1C212.5 1052.7 213.8 1073.5 214.8 1079.7C215.8 1081.8 216.9 1081.8 217.9 1081.8C219.0 1081.5 220.0 1081.8 221.1 1077.7C222.1 1072.8 223.0 1059.3 224.2 1052.5C225.4 1045.7 227.0 1039.2 228.4 1036.8C229.8 1036.8 231.6 1036.8 232.6 1037.9C233.7 1041.5 233.8 1051.3 234.7 1058.8C235.6 1066.3 236.6 1079.4 237.8 1082.9C239.1 1082.9 240.8 1082.9 242.0 1079.7C243.3 1075.4 243.9 1063.0 245.2 1056.7C246.4 1050.4 248.1 1045.2 249.4 1042.0C250.6 1038.9 251.5 1037.9 252.5 1037.9C253.5 1040.3 254.6 1048.8 255.6 1056.7C256.7 1064.6 257.6 1079.9 258.8 1085.0C260.0 1087.1 261.9 1087.1 263.0 1087.1C264.0 1086.9 264.2 1087.1 265.1 1083.9C265.9 1078.5 267.5 1054.6 268.2 1054.6L269.3 1088.1C269.8 1097.2 270.7 1104.2 271.4 1109.1C272.1 1114.0 272.8 1115.0 273.4 1117.4C274.1 1119.9 274.8 1121.1 275.5 1123.7C276.2 1126.4 276.9 1131.1 277.6 1133.2C278.3 1135.3 279.0 1133.2 279.7 1136.3C280.4 1139.6 281.1 1145.0 281.8 1153.1C282.5 1161.1 283.2 1181.0 283.9 1184.5C284.6 1184.5 285.3 1174.0 286.0 1174.0C286.7 1174.0 287.4 1184.5 288.1 1184.5C288.8 1183.8 289.5 1171.6 290.2 1169.8C290.9 1169.8 291.6 1174.0 292.3 1174.0C293.0 1171.6 293.7 1160.7 294.4 1155.2C295.1 1149.6 295.8 1141.5 296.5 1140.5C297.2 1140.5 297.9 1146.1 298.6 1148.9C299.3 1151.7 299.8 1157.2 300.7 1157.2C301.6 1156.5 302.4 1147.5 303.8 1144.7C305.2 1141.9 307.9 1144.7 309.1 1140.5L310.7 1107.0L312.2 1077.7C312.8 1069.6 313.4 1061.9 314.3 1058.8C315.2 1058.8 316.2 1058.8 317.4 1058.8C318.7 1062.3 320.4 1075.6 321.6 1079.7C322.8 1083.9 323.4 1083.9 324.8 1083.9C326.2 1082.2 328.4 1073.8 330.0 1069.3C331.6 1064.7 333.0 1059.5 334.2 1056.7C335.4 1053.9 335.9 1052.5 337.3 1052.5C338.7 1052.5 341.0 1052.5 342.6 1056.7C344.1 1061.8 345.4 1079.4 346.8 1082.9C348.2 1082.9 349.7 1081.3 351.0 1077.7C352.2 1074.0 353.0 1065.1 354.1 1060.9C355.1 1056.7 356.0 1053.9 357.2 1052.5C358.5 1052.5 360.0 1052.5 361.4 1052.5C362.8 1057.1 364.2 1074.2 365.6 1079.7C367.0 1085.3 368.4 1086.0 369.8 1086.0C371.2 1085.7 372.6 1082.5 374.0 1077.7C375.4 1072.8 376.8 1061.6 378.2 1056.7C379.6 1051.8 381.0 1049.7 382.4 1048.3C383.8 1048.3 385.3 1048.3 386.6 1048.3C387.8 1052.2 388.7 1065.4 389.7 1071.4C390.7 1077.3 391.6 1083.6 392.8 1083.9C394.1 1083.9 395.6 1078.0 397.0 1073.5C398.4 1068.9 399.8 1060.4 401.2 1056.7C402.6 1053.0 404.0 1051.5 405.4 1051.5C406.8 1053.9 408.2 1065.3 409.6 1071.4C411.0 1077.5 412.4 1086.4 413.8 1088.1C415.2 1088.1 416.6 1086.4 418.0 1081.8C419.4 1077.3 420.9 1066.5 422.2 1060.9C423.4 1055.3 424.1 1050.4 425.3 1048.3C426.5 1048.3 428.3 1048.3 429.5 1048.3C430.7 1052.5 431.6 1066.5 432.6 1073.5C433.7 1080.4 434.4 1088.1 435.8 1090.2C437.2 1090.2 439.8 1089.5 441.0 1086.0C442.2 1082.5 442.3 1074.3 443.1 1069.3C444.0 1064.2 445.1 1057.6 446.3 1055.7C447.4 1055.7 449.0 1055.7 450.1 1057.8C451.1 1061.4 451.6 1072.2 452.6 1077.7C453.5 1083.1 454.5 1088.8 455.7 1090.2C456.9 1090.2 458.7 1087.4 459.9 1086.0C461.1 1084.6 462.0 1086.0 463.0 1081.8C464.1 1077.7 465.1 1065.1 466.2 1060.9C467.2 1056.7 468.3 1057.8 469.3 1056.7C470.4 1055.7 471.4 1054.6 472.5 1054.6C473.5 1058.8 474.6 1074.5 475.6 1081.8C476.7 1089.2 477.5 1096.5 478.8 1098.6C480.0 1098.6 481.5 1097.5 482.9 1094.4C484.3 1091.3 485.7 1085.2 487.1 1079.7C488.5 1074.3 490.1 1064.0 491.3 1061.9C492.5 1061.9 493.4 1062.5 494.5 1067.2C495.5 1071.9 496.6 1084.3 497.6 1090.2C498.7 1096.2 499.7 1101.2 500.7 1102.8C501.8 1102.8 502.8 1101.7 503.9 1099.6C504.9 1097.5 506.0 1094.9 507.0 1090.2C508.1 1085.5 509.1 1076.1 510.2 1071.4C511.2 1066.7 512.3 1061.9 513.3 1061.9C514.4 1062.3 515.2 1066.7 516.5 1073.5C517.7 1080.3 519.4 1097.7 520.6 1102.8C521.9 1103.8 522.7 1103.8 523.8 1103.8C524.8 1103.1 525.9 1102.3 526.9 1098.6C528.0 1094.9 529.0 1088.6 530.1 1081.8C531.1 1075.0 532.2 1061.9 533.2 1057.8C534.3 1056.7 535.5 1056.7 536.4 1056.7C537.2 1060.0 537.4 1069.6 538.4 1077.7C539.5 1085.7 541.4 1100.7 542.6 1104.9C543.9 1104.9 544.6 1104.5 545.8 1102.8C547.0 1101.0 548.7 1099.6 550.0 1094.4C551.2 1089.2 551.9 1077.5 553.1 1071.4C554.3 1065.3 556.3 1059.5 557.3 1057.8C558.3 1057.8 558.5 1057.8 559.4 1060.9C560.3 1066.0 561.5 1080.8 562.5 1088.1C563.6 1095.5 564.5 1102.8 565.7 1104.9C566.9 1104.9 568.6 1102.8 569.9 1100.7C571.1 1098.6 572.0 1097.2 573.0 1092.3C574.1 1087.4 575.1 1077.3 576.2 1071.4C577.2 1065.4 578.2 1056.7 579.3 1056.7C580.3 1057.1 581.2 1065.1 582.4 1073.5C583.7 1081.8 585.2 1101.0 586.6 1107.0C588.0 1109.1 589.6 1109.1 590.8 1109.1C592.0 1108.7 592.9 1109.1 594.0 1104.9C595.0 1100.3 596.1 1089.2 597.1 1081.8C598.1 1074.5 599.3 1065.1 600.2 1060.9C601.2 1056.7 602.1 1056.7 603.0 1056.7C603.8 1059.8 604.5 1070.7 605.5 1079.7C606.4 1088.8 607.4 1105.8 608.6 1111.2C609.8 1112.2 611.6 1112.2 612.8 1112.2C614.0 1111.9 614.7 1112.2 616.0 1109.1C617.2 1103.3 618.8 1086.2 620.1 1077.7C621.5 1069.1 622.9 1058.8 623.9 1057.8C625.0 1057.8 625.5 1063.5 626.4 1071.4C627.4 1079.2 628.5 1099.1 629.6 1104.9C630.6 1105.9 631.5 1105.9 632.7 1105.9C633.9 1105.6 635.5 1105.9 636.9 1102.8C638.3 1097.0 639.8 1079.2 641.1 1071.4C642.4 1063.5 643.8 1059.7 644.9 1055.7C645.9 1051.6 646.6 1047.3 647.4 1047.3C648.1 1048.8 648.6 1054.4 649.5 1065.1C650.3 1075.7 651.6 1103.3 652.6 1111.2C653.7 1112.2 654.7 1112.2 655.7 1112.2C656.8 1111.5 657.8 1111.0 658.9 1107.0C659.9 1103.0 661.0 1095.5 662.0 1088.1C663.1 1080.8 664.1 1067.0 665.2 1063.0C666.2 1063.0 667.3 1063.0 668.3 1064.0C669.4 1067.2 670.4 1073.1 671.5 1081.8C672.5 1090.6 673.4 1110.8 674.6 1116.4C675.8 1116.4 677.6 1116.4 678.8 1115.4C680.0 1113.8 680.9 1114.0 681.9 1107.0C683.0 1100.0 684.0 1081.3 685.1 1073.5C686.1 1065.6 687.2 1060.9 688.2 1059.8C689.3 1059.8 690.1 1059.8 691.4 1067.2C692.6 1076.4 694.2 1107.3 695.5 1115.4C696.9 1115.4 698.5 1115.4 699.7 1115.4C701.0 1114.3 701.8 1115.4 702.9 1109.1C703.9 1101.4 705.3 1076.6 706.0 1069.3L707.1 1065.1C707.9 1063.7 709.6 1060.9 710.9 1060.9C712.1 1066.5 713.1 1089.9 714.4 1098.6C715.7 1107.3 717.0 1111.9 718.6 1113.3C720.2 1113.3 722.3 1113.3 723.9 1107.0C725.4 1100.0 726.6 1079.4 728.0 1071.4C729.4 1063.3 731.0 1058.8 732.2 1058.8C733.5 1062.3 734.2 1083.2 735.4 1092.3C736.6 1101.4 738.2 1109.9 739.6 1113.3C741.0 1113.3 742.4 1113.3 743.8 1112.2C745.1 1108.4 746.7 1099.1 747.9 1090.2C749.2 1081.3 749.9 1063.7 751.1 1058.8C752.3 1058.8 754.0 1058.8 755.3 1060.9C756.5 1067.5 757.2 1090.0 758.4 1098.6C759.6 1107.1 761.2 1111.0 762.6 1112.2C764.0 1112.2 765.2 1112.2 766.8 1105.9C768.4 1098.4 770.5 1076.4 772.0 1067.2C773.6 1057.9 775.0 1052.9 776.2 1050.4C777.4 1050.4 778.3 1050.4 779.4 1052.5C780.4 1060.5 781.5 1088.8 782.5 1098.6C783.5 1108.4 784.4 1110.1 785.6 1111.2C786.9 1111.2 788.4 1111.2 789.8 1104.9C791.2 1097.9 792.5 1078.7 794.0 1069.3C795.5 1059.8 797.5 1048.3 798.8 1048.3C800.1 1049.7 800.7 1067.2 801.8 1077.7C802.8 1088.1 803.8 1106.8 805.1 1111.2C806.5 1111.2 808.3 1110.5 809.7 1103.8C811.2 1097.2 812.5 1079.6 813.9 1071.4C815.3 1063.2 816.9 1054.6 818.1 1054.6C819.3 1055.7 820.0 1068.6 821.3 1077.7C822.5 1086.7 824.0 1103.8 825.4 1109.1C826.8 1109.1 828.2 1109.1 829.6 1109.1C831.0 1105.6 832.3 1097.4 833.8 1088.1C835.3 1078.9 837.2 1058.1 838.6 1053.6C840.0 1053.6 841.1 1053.6 842.2 1060.9C843.3 1068.4 844.1 1089.9 845.3 1098.6C846.6 1107.3 848.0 1111.9 849.5 1113.3C851.1 1113.3 853.2 1113.3 854.8 1107.0C856.3 1100.0 857.6 1080.1 859.0 1071.4C860.4 1062.6 861.9 1054.6 863.1 1054.6C864.4 1055.7 865.1 1067.9 866.3 1077.7C867.5 1087.4 869.3 1106.8 870.5 1113.3C871.7 1116.4 872.4 1116.4 873.6 1116.4C874.8 1115.7 876.4 1116.4 877.8 1109.1C879.2 1098.8 880.5 1064.7 882.0 1054.6C883.5 1048.3 885.6 1048.3 886.8 1048.3C888.0 1052.2 888.4 1066.5 889.3 1077.7C890.3 1088.8 891.2 1108.2 892.5 1115.4C893.7 1120.6 895.3 1120.6 896.7 1120.6C898.1 1119.9 899.6 1119.4 900.8 1111.2C902.1 1103.0 902.9 1082.5 904.0 1071.4C905.0 1060.2 906.1 1047.3 907.1 1044.1C908.2 1044.1 909.2 1044.1 910.3 1052.5C911.3 1062.3 912.4 1091.1 913.4 1102.8C914.5 1114.5 915.3 1119.4 916.6 1122.7C917.8 1122.7 919.5 1122.7 920.7 1122.7C922.0 1116.9 922.8 1099.1 923.9 1088.1C924.9 1077.1 926.0 1064.0 927.0 1056.7C928.1 1049.4 929.1 1044.1 930.2 1044.1C931.2 1045.5 932.3 1053.2 933.3 1065.1C934.4 1077.0 935.4 1104.7 936.5 1115.4C937.5 1126.0 938.4 1127.2 939.6 1129.0C940.8 1129.0 942.4 1129.0 943.8 1125.8C945.2 1116.2 946.6 1084.3 948.0 1071.4C949.4 1058.4 950.9 1050.6 952.2 1048.3C953.4 1048.3 954.3 1048.3 955.3 1057.8C956.4 1068.6 957.4 1100.7 958.5 1113.3C959.5 1125.8 960.4 1130.4 961.6 1133.2C962.8 1133.2 964.4 1133.2 965.8 1130.0C967.2 1118.7 968.9 1077.3 970.0 1065.1C971.0 1056.7 971.2 1059.1 972.1 1056.7C973.0 1054.3 974.2 1050.4 975.2 1050.4C976.3 1052.9 977.3 1059.1 978.4 1071.4C979.4 1083.6 980.5 1113.4 981.5 1123.7C982.6 1133.2 983.4 1132.1 984.7 1133.2C985.9 1133.2 987.5 1133.2 988.9 1130.0C990.2 1120.4 991.8 1088.8 993.0 1075.6C994.3 1062.3 995.4 1056.5 996.2 1050.4C997.0 1044.3 997.2 1038.9 997.9 1038.9C998.6 1040.6 999.4 1044.7 1000.4 1060.9L1003.5 1136.3C1004.6 1138.4 1005.6 1138.2 1006.7 1138.4C1007.7 1138.4 1008.6 1138.4 1009.8 1137.3C1011.0 1129.0 1012.8 1101.9 1014.0 1088.1C1015.2 1074.3 1016.3 1061.9 1017.1 1054.6C1018.0 1047.3 1018.4 1044.1 1019.2 1044.1C1020.1 1049.0 1021.3 1069.3 1022.4 1083.9C1023.4 1098.6 1024.5 1123.4 1025.5 1132.1C1026.6 1136.3 1027.4 1135.1 1028.7 1136.3C1029.9 1137.5 1031.4 1139.4 1032.8 1139.4C1034.2 1130.0 1035.6 1095.1 1037.0 1079.7C1038.4 1064.4 1040.0 1049.4 1041.2 1047.3C1042.4 1047.3 1043.3 1054.4 1044.4 1067.2C1045.4 1079.9 1046.5 1111.7 1047.5 1123.7C1048.5 1135.8 1049.4 1137.0 1050.6 1139.4C1051.9 1139.4 1053.6 1139.4 1054.8 1138.4C1056.1 1130.5 1056.8 1105.9 1058.0 1092.3C1059.2 1078.7 1060.9 1060.2 1062.2 1056.7C1063.4 1056.7 1064.3 1061.9 1065.3 1071.4C1066.4 1080.8 1067.2 1102.1 1068.4 1113.3C1069.7 1124.4 1071.4 1134.4 1072.6 1138.4C1073.9 1138.4 1074.6 1138.4 1075.8 1137.3C1077.0 1127.2 1078.6 1091.6 1080.0 1077.7C1081.4 1063.7 1082.9 1054.3 1084.2 1053.6C1085.4 1053.6 1086.1 1061.8 1087.3 1073.5C1088.5 1085.2 1090.1 1113.8 1091.5 1123.7C1092.9 1133.2 1094.5 1133.2 1095.7 1133.2C1096.9 1132.8 1097.8 1131.9 1098.8 1121.6C1099.9 1111.3 1100.6 1083.9 1102.0 1071.4C1103.4 1058.8 1106.0 1046.2 1107.2 1046.2C1108.4 1046.9 1108.4 1061.9 1109.3 1075.6C1110.2 1089.2 1111.2 1116.6 1112.4 1127.9C1113.7 1139.3 1115.4 1141.9 1116.6 1143.6C1117.8 1143.6 1118.7 1143.6 1119.8 1138.4C1120.8 1130.2 1121.9 1108.9 1122.9 1094.4C1124.0 1079.9 1125.0 1056.0 1126.1 1051.5C1127.1 1051.5 1128.1 1056.9 1129.2 1067.2C1130.2 1077.5 1131.1 1101.0 1132.3 1113.3C1133.6 1125.5 1135.0 1136.0 1136.5 1140.5C1138.1 1140.5 1140.2 1140.5 1141.8 1140.5C1143.3 1130.7 1144.6 1095.1 1146.0 1081.8C1147.3 1068.6 1148.7 1061.2 1149.7 1060.9C1150.8 1060.9 1151.3 1067.2 1152.2 1079.7L1155.4 1136.3C1156.4 1143.6 1157.3 1143.6 1158.5 1143.6C1159.7 1143.3 1161.3 1143.6 1162.7 1134.2C1164.1 1121.1 1165.7 1076.8 1166.9 1065.1C1168.1 1064.0 1169.2 1064.0 1170.0 1064.0C1170.9 1065.1 1171.1 1064.0 1172.1 1071.4C1173.2 1082.0 1175.1 1116.6 1176.3 1127.9C1177.5 1139.3 1178.1 1138.4 1179.5 1139.4C1180.9 1139.4 1183.1 1139.4 1184.7 1134.2C1186.3 1123.2 1187.7 1084.8 1188.9 1073.5C1190.1 1066.1 1191.0 1066.1 1192.0 1066.1C1193.1 1067.2 1194.0 1068.0 1195.2 1079.7C1196.4 1091.4 1198.1 1125.0 1199.4 1136.3C1200.6 1147.6 1201.3 1146.8 1202.5 1147.8C1203.7 1147.8 1205.3 1147.8 1206.7 1142.6C1208.1 1131.6 1209.6 1096.2 1210.9 1081.8C1212.2 1067.5 1213.6 1058.8 1214.7 1056.7C1215.7 1056.7 1216.1 1056.7 1217.2 1069.3C1218.3 1082.5 1220.1 1124.3 1221.4 1136.3C1222.6 1141.5 1223.3 1141.5 1224.5 1141.5C1225.7 1141.5 1227.7 1139.3 1228.7 1136.3C1229.6 1133.3 1229.9 1125.8 1230.2 1123.7" stroke="#F8766D"/>
<path d="M186.5 1073.5C187.0 1073.8 188.4 1075.6 189.7 1075.6C190.9 1075.6 192.5 1073.8 193.9 1073.5C195.2 1073.5 196.5 1073.5 198.0 1073.5C199.6 1071.4 201.9 1061.9 203.3 1060.9C204.7 1060.9 205.2 1064.7 206.4 1067.2C207.6 1069.6 208.9 1074.3 210.6 1075.6C212.4 1075.6 215.1 1074.9 216.9 1074.5C218.6 1074.2 219.5 1074.5 221.1 1073.5C222.7 1071.2 224.7 1060.9 226.3 1060.9C227.9 1060.9 229.1 1071.2 230.5 1073.5C231.9 1074.5 233.1 1074.5 234.7 1074.5C236.3 1074.5 238.4 1074.3 239.9 1073.5C241.5 1072.6 242.7 1071.0 244.1 1069.3C245.5 1067.5 246.9 1063.0 248.3 1063.0C249.7 1063.0 251.1 1067.2 252.5 1069.3C253.9 1071.4 254.9 1074.2 256.7 1075.6C258.4 1077.0 261.4 1077.3 263.0 1077.7C264.6 1077.7 265.6 1077.7 266.3 1077.7L267.2 1176.1L268.0 1071.4C268.5 1068.2 269.4 1068.4 270.3 1068.2C271.2 1068.2 272.2 1068.9 273.4 1070.3C274.7 1071.7 275.9 1075.9 277.6 1076.6C279.4 1076.6 281.7 1076.6 283.9 1074.5C286.2 1072.1 289.3 1062.8 291.3 1061.9C293.2 1061.9 294.2 1067.4 295.4 1069.3C296.7 1071.2 297.0 1073.3 298.6 1073.5C300.2 1073.5 302.4 1072.4 304.9 1070.3C307.3 1068.2 311.2 1061.6 313.2 1060.9C315.3 1060.9 316.0 1064.2 317.4 1066.1C318.8 1068.0 319.5 1071.9 321.6 1072.4C323.7 1072.4 327.7 1071.4 330.0 1069.3C332.3 1067.2 333.7 1059.8 335.2 1059.8C336.8 1059.8 337.9 1066.8 339.4 1069.3C341.0 1071.7 342.7 1074.2 344.7 1074.5C346.6 1074.5 348.9 1074.0 351.0 1071.4C353.0 1068.7 355.5 1059.5 357.2 1058.8C359.0 1058.8 360.0 1064.6 361.4 1067.2C362.8 1069.8 363.9 1073.6 365.6 1074.5C367.4 1074.5 369.6 1074.5 371.9 1072.4C374.2 1069.6 377.3 1058.3 379.2 1057.8C381.1 1057.8 382.0 1066.5 383.4 1069.3C384.8 1072.1 385.9 1073.8 387.6 1074.5C389.4 1074.5 391.6 1074.5 393.9 1073.5C396.2 1070.8 399.3 1059.5 401.2 1058.8C403.1 1058.8 404.0 1066.7 405.4 1069.3C406.8 1071.9 408.2 1074.0 409.6 1074.5C411.0 1074.5 411.5 1074.5 413.8 1072.4C416.1 1069.6 420.8 1058.3 423.2 1057.8C425.7 1057.8 426.9 1066.7 428.5 1069.3C430.0 1071.9 431.1 1072.6 432.6 1073.5C434.2 1074.3 436.7 1074.2 437.9 1074.5C439.1 1074.9 438.7 1075.6 440.0 1075.6C441.2 1073.6 443.8 1064.0 445.2 1063.0C446.6 1063.0 447.2 1067.2 448.4 1069.3C449.6 1071.4 451.2 1074.5 452.6 1075.6C454.0 1075.6 455.4 1075.6 456.8 1075.6C458.2 1076.1 459.6 1078.7 460.9 1078.7C462.3 1077.8 463.7 1070.8 465.1 1070.3C466.5 1070.3 467.9 1073.3 469.3 1075.6C470.7 1077.8 472.1 1082.4 473.5 1083.9C474.9 1085.0 476.3 1084.6 477.7 1085.0C479.1 1085.3 480.1 1086.0 481.9 1086.0C483.6 1085.0 486.4 1078.9 488.2 1078.7C489.9 1078.7 490.8 1083.2 492.4 1085.0C493.9 1086.7 495.9 1088.3 497.6 1089.2C499.3 1090.0 500.9 1090.2 502.8 1090.2C504.8 1088.6 507.4 1080.4 509.1 1079.7C510.9 1079.7 511.7 1084.3 513.3 1086.0C514.9 1087.8 516.5 1089.3 518.5 1090.2C520.6 1091.1 523.6 1091.3 525.9 1091.3C528.1 1089.2 530.4 1078.9 532.2 1077.7C533.9 1077.7 535.0 1081.8 536.4 1083.9C537.8 1086.0 538.4 1089.0 540.5 1090.2C542.6 1091.3 546.7 1091.3 548.9 1091.3C551.2 1089.5 552.4 1080.3 554.2 1079.7C555.9 1079.7 557.5 1086.2 559.4 1088.1C561.3 1090.0 563.9 1090.9 565.7 1091.3C567.4 1091.3 568.1 1091.3 569.9 1090.2C571.6 1088.3 574.2 1080.1 576.2 1079.7C578.1 1079.7 579.6 1086.0 581.4 1088.1C583.1 1090.2 584.5 1091.4 586.6 1092.3C588.7 1093.2 592.0 1093.4 594.0 1093.4C595.9 1091.8 596.7 1083.4 598.1 1082.9C599.5 1082.9 601.1 1087.9 602.3 1090.2C603.6 1092.5 603.9 1095.5 605.5 1096.5C607.0 1096.5 610.2 1096.5 611.8 1096.5C613.3 1096.2 613.5 1096.5 614.9 1094.4C616.3 1091.8 618.6 1081.8 620.1 1080.8C621.7 1080.8 622.9 1086.0 624.3 1088.1C625.7 1090.2 626.8 1092.5 628.5 1093.4C630.3 1093.4 632.7 1093.4 634.8 1093.4C636.9 1091.4 639.2 1082.4 641.1 1081.8C643.0 1081.8 644.9 1088.1 646.3 1090.2C647.7 1092.3 647.9 1093.7 649.5 1094.4C651.0 1094.4 653.5 1094.4 655.7 1094.4C658.0 1093.0 661.0 1086.0 663.1 1086.0C665.2 1086.2 666.4 1093.4 668.3 1095.5C670.2 1097.5 672.9 1098.4 674.6 1098.6C676.3 1098.6 677.0 1098.6 678.8 1096.5C680.5 1094.4 683.0 1086.0 685.1 1086.0C687.2 1086.0 689.3 1094.8 691.4 1096.5C693.5 1096.5 695.7 1096.5 697.6 1096.5C699.6 1096.2 701.3 1096.2 702.9 1094.4C704.4 1092.7 706.0 1087.1 707.1 1086.0C708.1 1086.0 708.1 1086.9 709.2 1088.1C710.2 1089.3 711.3 1092.3 713.4 1093.4C715.5 1094.4 719.3 1094.4 721.8 1094.4C724.2 1093.2 726.3 1086.9 728.0 1086.0C729.8 1086.0 730.8 1087.9 732.2 1089.2C733.6 1090.4 734.2 1092.7 736.4 1093.4C738.7 1093.4 743.4 1093.4 745.8 1093.4C748.3 1091.8 749.5 1084.8 751.1 1083.9C752.7 1083.9 753.9 1086.7 755.3 1088.1C756.7 1089.5 757.4 1091.8 759.5 1092.3C761.6 1092.3 765.6 1092.3 767.8 1091.3C770.1 1089.7 771.5 1082.9 773.1 1082.9C774.6 1083.1 775.7 1090.9 777.3 1092.3C778.8 1092.3 780.6 1091.4 782.5 1091.3C784.4 1091.3 786.8 1091.3 788.8 1091.3C790.8 1089.7 792.9 1082.2 794.7 1081.8C796.4 1081.8 797.4 1087.8 799.3 1089.2C801.1 1090.2 803.4 1089.9 805.5 1090.2C807.6 1090.6 809.8 1091.3 811.8 1091.3C813.9 1090.4 815.9 1085.2 817.7 1085.0C819.4 1085.0 820.3 1088.8 822.3 1090.2C824.3 1091.6 827.7 1093.2 829.6 1093.4C831.6 1093.4 832.3 1092.5 833.8 1091.3C835.3 1090.0 837.1 1086.2 838.6 1086.0C840.2 1086.0 841.1 1088.5 843.2 1090.2C845.4 1092.0 849.5 1095.6 851.6 1096.5C853.7 1096.5 854.4 1096.5 855.8 1095.5C857.2 1093.9 858.6 1087.6 860.0 1087.1C861.4 1087.1 862.4 1090.7 864.2 1092.3C865.9 1093.9 868.7 1095.6 870.5 1096.5C872.2 1097.4 873.3 1097.5 874.7 1097.5C876.1 1097.0 877.5 1094.9 878.9 1093.4C880.3 1091.8 881.6 1088.1 883.0 1088.1C884.4 1088.1 885.5 1092.1 887.2 1093.4C889.0 1094.6 891.8 1094.8 893.5 1095.5C895.3 1096.2 896.1 1097.5 897.7 1097.5C899.3 1096.9 901.4 1092.0 902.9 1091.3C904.5 1091.3 905.6 1092.1 907.1 1093.4C908.7 1094.6 910.4 1097.4 912.4 1098.6C914.3 1099.8 916.4 1100.7 918.7 1100.7C920.9 1100.0 924.1 1094.9 926.0 1094.4C927.9 1094.4 928.8 1096.2 930.2 1097.5C931.6 1098.9 932.4 1101.7 934.4 1102.8C936.3 1103.8 939.4 1103.8 941.7 1103.8C944.0 1103.0 946.2 1097.5 948.0 1097.5C949.7 1097.5 950.4 1102.3 952.2 1103.8C953.9 1105.4 956.4 1106.1 958.5 1107.0C960.5 1107.8 962.8 1109.1 964.7 1109.1C966.7 1107.7 968.6 1100.2 970.0 1098.6C971.4 1098.6 972.1 1098.6 973.1 1099.6C974.2 1101.0 975.1 1105.6 976.3 1107.0C977.5 1108.0 979.1 1107.7 980.5 1108.0C981.9 1108.4 983.3 1109.1 984.7 1109.1C986.1 1108.5 987.6 1107.0 988.9 1104.9C990.1 1102.8 990.9 1097.2 992.0 1096.5C993.0 1096.5 993.9 1098.2 995.1 1100.7C996.4 1103.1 997.6 1109.6 999.3 1111.2C1001.1 1111.2 1003.7 1110.5 1005.6 1110.1C1007.5 1109.8 1009.3 1110.1 1010.8 1109.1C1012.4 1107.1 1013.8 1099.3 1015.0 1098.6C1016.3 1098.6 1017.3 1103.1 1018.2 1104.9C1019.0 1106.6 1019.6 1104.9 1020.1 1109.1L1020.9 1140.5L1021.7 1109.1C1022.7 1109.1 1024.9 1109.1 1026.6 1109.1C1028.2 1109.1 1029.9 1109.1 1031.8 1109.1C1033.7 1107.8 1036.3 1101.7 1038.1 1101.7C1039.8 1101.7 1040.7 1107.8 1042.3 1109.1C1043.8 1109.1 1045.6 1109.1 1047.5 1109.1C1049.4 1108.9 1051.7 1109.1 1053.8 1108.0C1055.9 1106.1 1058.1 1097.5 1060.1 1097.5C1062.0 1097.5 1063.6 1106.6 1065.3 1108.0C1067.1 1108.0 1069.0 1106.1 1070.5 1105.9C1072.1 1105.9 1072.9 1107.0 1074.7 1107.0C1076.5 1105.2 1079.7 1096.2 1081.4 1095.5C1083.2 1095.5 1083.9 1101.4 1085.2 1102.8C1086.5 1103.8 1087.6 1103.3 1089.4 1103.8C1091.1 1104.4 1094.3 1105.1 1095.7 1105.9C1097.1 1106.8 1096.6 1109.1 1097.8 1109.1C1099.0 1107.5 1101.6 1098.1 1103.0 1096.5C1104.4 1096.5 1105.3 1097.5 1106.2 1099.6C1107.0 1101.7 1106.9 1107.7 1108.2 1109.1C1109.6 1109.1 1112.6 1108.2 1114.5 1108.0C1116.5 1108.0 1118.0 1108.0 1119.8 1108.0C1121.5 1106.6 1123.4 1099.6 1125.0 1099.6C1126.6 1100.2 1127.4 1108.4 1129.2 1111.2C1130.9 1114.0 1133.6 1114.8 1135.5 1116.4C1137.4 1118.0 1139.1 1120.6 1140.7 1120.6C1142.3 1120.4 1143.5 1115.9 1144.9 1115.4C1146.3 1115.4 1147.7 1116.4 1149.1 1117.4C1150.5 1118.5 1151.7 1120.4 1153.3 1121.6C1154.9 1122.9 1157.1 1123.9 1158.5 1124.8C1159.9 1125.7 1160.4 1126.9 1161.7 1126.9C1162.9 1126.4 1164.5 1123.2 1165.8 1121.6C1167.2 1120.1 1168.6 1117.4 1170.0 1117.4C1171.4 1117.8 1172.3 1122.3 1174.2 1123.7C1176.1 1125.1 1178.9 1125.8 1181.6 1125.8C1184.2 1124.4 1188.2 1115.9 1189.9 1115.4C1191.7 1115.4 1190.6 1121.5 1192.0 1122.7C1193.4 1122.7 1196.2 1122.7 1198.3 1122.7C1200.4 1122.7 1202.9 1122.7 1204.6 1122.7C1206.3 1122.5 1207.4 1122.7 1208.8 1121.6C1210.2 1120.4 1211.6 1115.4 1213.0 1115.4C1214.4 1115.9 1215.8 1123.4 1217.2 1124.8C1218.6 1124.8 1219.6 1124.4 1221.4 1123.7C1223.1 1123.0 1225.7 1122.0 1227.6 1120.6C1229.6 1119.2 1232.0 1116.2 1232.9 1115.4" stroke="#00BA38"/>
<path d="M226.3 1144.7L226.3 1161.4C226.8 1161.4 228.1 1161.4 229.5 1161.4C230.9 1162.1 233.0 1165.6 234.7 1165.6C236.4 1164.9 238.4 1159.7 239.9 1157.2C241.5 1154.8 242.8 1153.4 244.1 1151.0C245.4 1148.5 246.8 1142.6 247.9 1142.6C248.9 1142.9 249.3 1148.9 250.4 1153.1C251.5 1157.2 253.2 1165.1 254.6 1167.7C256.0 1168.8 257.4 1168.8 258.8 1168.8C260.2 1168.6 261.6 1167.9 263.0 1166.7C264.4 1165.5 265.9 1163.7 267.2 1161.4C268.4 1159.2 269.3 1153.1 270.3 1153.1C271.4 1153.4 272.2 1160.7 273.4 1163.5C274.7 1166.3 276.2 1169.8 277.6 1169.8C279.0 1169.8 280.3 1166.3 281.8 1163.5C283.4 1160.7 285.4 1157.4 287.1 1153.1C288.7 1148.7 290.3 1138.7 291.9 1137.3C293.5 1137.3 295.2 1142.2 296.5 1144.7C297.8 1147.1 298.4 1151.3 299.6 1152.0C300.9 1152.0 302.2 1150.4 303.8 1148.9C305.4 1147.3 307.5 1145.0 309.1 1142.6C310.6 1140.1 312.2 1134.2 313.2 1134.2C314.3 1134.6 314.6 1141.2 315.3 1144.7C316.0 1148.2 316.4 1154.1 317.4 1155.2C318.5 1155.2 320.2 1152.4 321.6 1151.0C323.0 1149.6 324.4 1149.2 325.8 1146.8C327.2 1144.3 328.4 1140.8 330.0 1136.3C331.6 1131.8 333.5 1119.5 335.2 1119.5C337.0 1119.5 338.9 1131.8 340.5 1136.3C342.0 1140.8 343.3 1145.4 344.7 1146.8C346.1 1146.8 347.5 1146.8 348.9 1144.7C350.3 1142.2 351.7 1136.1 353.0 1132.1C354.4 1128.1 355.8 1120.6 356.8 1120.6C357.9 1121.3 358.7 1130.9 359.3 1136.3L360.4 1153.1C361.1 1153.1 362.5 1148.9 363.5 1148.9C364.6 1149.0 365.4 1154.1 366.7 1154.1C367.9 1153.8 369.3 1149.7 370.8 1146.8C372.4 1143.8 374.6 1139.6 376.1 1136.3C377.6 1133.0 378.6 1126.9 379.9 1126.9C381.1 1127.6 382.0 1135.6 383.4 1140.5C384.9 1145.4 387.1 1154.1 388.7 1156.2C390.2 1156.2 391.4 1153.6 392.8 1153.1C394.2 1153.1 395.6 1153.1 397.0 1153.1C398.4 1150.1 400.2 1136.6 401.2 1135.3C402.3 1135.3 402.3 1140.7 403.3 1144.7C404.4 1148.7 406.1 1156.5 407.5 1159.3C408.9 1161.4 409.9 1161.4 411.7 1161.4C413.4 1161.1 416.2 1159.3 418.0 1157.2C419.7 1155.2 421.1 1148.9 422.2 1148.9C423.2 1149.6 423.2 1159.0 424.3 1161.4C425.3 1163.5 426.5 1161.4 428.5 1163.5C430.4 1165.6 433.7 1174.0 435.8 1174.0C437.9 1174.0 439.5 1166.3 441.0 1163.5C442.5 1160.7 443.2 1157.2 444.6 1157.2C446.0 1158.3 447.6 1166.1 449.4 1169.8C451.3 1173.5 453.8 1178.7 455.7 1179.2C457.6 1179.2 459.3 1175.7 460.9 1173.0C462.6 1170.2 464.2 1163.0 465.6 1162.5C467.0 1162.5 467.6 1166.3 469.3 1169.8C471.0 1173.3 473.5 1182.2 475.6 1183.4C477.7 1183.4 479.6 1181.0 481.9 1177.1C484.2 1173.3 487.5 1161.3 489.2 1160.4C491.0 1160.4 491.1 1168.2 492.4 1171.9C493.6 1175.6 494.8 1181.3 496.6 1182.4C498.3 1182.4 500.5 1182.4 502.8 1178.2C505.2 1173.5 508.9 1156.5 510.8 1154.1C512.7 1154.1 513.1 1159.9 514.4 1163.5C515.7 1167.2 516.8 1174.4 518.5 1176.1C520.3 1176.1 522.8 1176.1 524.8 1174.0C526.8 1170.9 529.4 1157.2 530.5 1157.2L531.5 1183.4C532.3 1183.4 534.2 1174.5 535.3 1174.0C536.5 1174.0 537.2 1180.1 538.4 1180.3C539.7 1180.3 541.2 1175.1 542.6 1175.1C544.0 1175.1 544.9 1180.3 546.8 1180.3C548.7 1177.7 552.4 1161.8 554.2 1159.3C555.9 1159.3 556.1 1162.0 557.3 1165.6C558.5 1169.3 559.9 1179.9 561.5 1181.3C563.1 1181.3 565.2 1175.9 566.7 1174.0C568.3 1172.1 569.3 1172.6 570.9 1169.8C572.5 1167.0 574.8 1157.9 576.2 1157.2C577.5 1157.2 578.1 1160.7 579.3 1165.6C580.5 1170.5 582.1 1183.4 583.5 1186.6C584.9 1186.6 586.1 1185.9 587.7 1184.5C589.2 1183.1 591.4 1180.8 592.9 1178.2C594.4 1175.6 595.8 1168.8 596.7 1168.8C597.6 1170.2 597.4 1185.0 598.1 1186.6C598.9 1186.6 600.1 1178.5 601.3 1178.2C602.5 1178.2 603.7 1182.9 605.5 1184.5C607.2 1186.0 609.7 1187.6 611.8 1187.6C613.9 1185.9 616.3 1176.8 618.0 1174.0C619.8 1171.2 620.7 1170.9 622.2 1170.9C623.7 1172.8 625.7 1184.0 627.1 1185.5C628.4 1185.5 629.1 1182.0 630.6 1180.3C632.1 1178.5 633.9 1178.2 635.8 1175.1C637.8 1171.9 640.7 1161.4 642.1 1161.4C643.5 1162.7 643.0 1178.4 644.2 1182.4C645.4 1185.5 647.5 1185.5 649.5 1185.5C651.4 1184.8 653.5 1181.9 655.7 1178.2C658.0 1174.5 661.2 1164.2 663.1 1163.5C665.0 1163.5 665.9 1170.2 667.3 1174.0C668.7 1177.8 669.9 1185.5 671.5 1186.6C673.0 1186.6 675.1 1183.4 676.7 1180.3C678.3 1177.1 679.5 1172.1 680.9 1167.7C682.3 1163.4 683.7 1154.1 685.1 1154.1C686.5 1155.2 687.7 1168.1 689.3 1174.0C690.8 1179.9 692.8 1189.0 694.5 1189.7C696.2 1189.7 697.8 1182.2 699.7 1178.2C701.7 1174.2 704.4 1168.1 706.0 1165.6C707.6 1163.5 707.8 1163.5 709.2 1163.5C710.6 1165.8 712.7 1177.3 714.4 1179.2C716.2 1179.2 717.7 1176.6 719.7 1175.1C721.6 1173.5 724.3 1171.9 725.9 1169.8C727.6 1167.7 728.5 1163.2 729.7 1162.5C730.9 1162.5 732.2 1162.5 733.3 1165.6C734.4 1168.9 735.2 1180.5 736.4 1182.4C737.6 1182.4 738.9 1179.2 740.6 1177.1C742.4 1175.1 745.2 1173.1 746.9 1169.8C748.6 1166.5 749.4 1158.6 750.7 1157.2C751.9 1157.2 752.8 1158.3 754.2 1161.4C755.7 1164.6 757.5 1175.7 759.5 1176.1C761.4 1176.1 763.5 1167.5 765.7 1163.5C768.0 1159.5 771.3 1152.4 773.1 1152.0C774.8 1152.0 775.1 1156.0 776.2 1161.4C777.4 1166.8 778.6 1182.0 780.0 1184.5C781.4 1184.5 783.1 1176.4 784.6 1176.1C786.1 1176.1 787.0 1182.4 788.8 1182.4C790.5 1179.6 793.4 1161.3 795.1 1159.3C796.7 1159.3 797.4 1165.8 798.8 1170.9C800.2 1175.9 801.6 1188.8 803.4 1189.7C805.3 1189.7 807.8 1180.5 809.7 1176.1C811.7 1171.7 813.7 1163.9 815.0 1163.5C816.2 1163.5 815.7 1169.1 817.1 1174.0C818.5 1178.9 821.1 1192.9 823.3 1192.9C825.6 1192.5 828.2 1177.3 830.7 1171.9C833.1 1166.5 836.1 1160.4 838.0 1160.4C839.9 1160.7 840.7 1168.8 842.2 1174.0C843.7 1179.2 845.1 1190.8 847.0 1191.8C848.9 1191.8 851.6 1184.1 853.7 1180.3C855.9 1176.4 858.3 1168.8 860.0 1168.8C861.7 1168.8 862.6 1175.7 864.2 1180.3C865.8 1184.8 867.7 1195.3 869.4 1196.0C871.2 1196.0 872.7 1188.0 874.7 1184.5C876.6 1181.0 879.4 1175.9 881.0 1175.1C882.5 1175.1 883.0 1176.6 884.1 1179.2C885.1 1181.9 886.1 1187.1 887.2 1190.8C888.4 1194.4 889.3 1200.5 891.0 1201.2C892.8 1201.2 895.4 1198.4 897.7 1195.0C900.0 1191.5 903.1 1181.3 905.0 1180.3C907.0 1180.3 907.8 1185.5 909.2 1188.7C910.6 1191.8 911.8 1198.4 913.4 1199.1C915.0 1199.1 917.1 1195.3 918.7 1192.9C920.2 1190.4 921.4 1184.5 922.8 1184.5C924.2 1185.2 926.0 1196.7 927.0 1197.0C928.1 1197.0 927.7 1186.6 929.1 1186.6C930.5 1187.3 933.3 1200.0 935.4 1201.2C937.5 1201.2 939.8 1197.7 941.7 1193.9C943.6 1190.1 945.4 1180.1 946.9 1178.2C948.5 1178.2 949.4 1178.4 951.1 1182.4C952.9 1186.4 955.3 1200.2 957.4 1202.3C959.5 1202.3 961.9 1198.3 963.7 1195.0C965.4 1191.6 966.7 1185.0 967.9 1182.4C969.1 1179.8 970.1 1179.2 971.0 1179.2C971.9 1179.2 972.1 1179.2 973.1 1182.4C974.2 1186.0 976.1 1198.4 977.3 1201.2C978.6 1201.2 979.5 1199.1 980.5 1199.1C981.4 1200.9 982.1 1211.7 983.0 1211.7C983.9 1211.0 984.7 1198.8 985.7 1195.0C986.7 1191.1 988.0 1188.7 988.9 1188.7C989.7 1190.2 990.2 1204.0 990.9 1204.4C991.6 1204.4 992.2 1191.6 993.0 1190.8C993.9 1190.8 994.8 1197.0 996.2 1199.1C997.6 1201.2 999.5 1203.3 1001.4 1203.3C1003.3 1203.3 1006.0 1200.9 1007.7 1199.1C1009.4 1197.4 1010.6 1196.3 1011.9 1192.9C1013.2 1189.4 1014.4 1178.9 1015.7 1178.2C1016.9 1178.2 1017.9 1186.2 1019.2 1188.7C1020.5 1191.1 1021.8 1192.0 1023.4 1192.9C1025.0 1193.7 1027.1 1193.9 1028.7 1193.9C1030.2 1193.4 1031.3 1191.5 1032.8 1189.7C1034.4 1188.0 1036.5 1183.4 1038.1 1183.4C1039.6 1184.0 1040.5 1190.9 1042.3 1192.9C1044.0 1194.8 1046.6 1195.0 1048.5 1195.0C1050.5 1194.4 1051.9 1191.8 1053.8 1189.7C1055.7 1187.6 1058.0 1182.4 1060.1 1182.4C1062.2 1183.6 1064.6 1194.8 1066.4 1197.0C1068.1 1197.0 1068.8 1197.0 1070.5 1196.0C1072.3 1195.0 1074.7 1193.2 1076.8 1190.8C1078.9 1188.3 1081.2 1181.3 1083.1 1181.3C1085.0 1181.9 1086.6 1192.5 1088.3 1193.9C1090.1 1193.9 1091.8 1190.9 1093.6 1189.7C1095.3 1188.5 1097.1 1188.3 1098.8 1186.6C1100.5 1184.8 1102.2 1179.2 1103.6 1179.2C1105.0 1179.2 1106.3 1181.9 1107.2 1186.6C1108.1 1191.3 1108.6 1198.4 1109.3 1207.5C1110.0 1216.6 1110.5 1238.9 1111.4 1241.0C1112.3 1241.0 1113.4 1224.3 1114.5 1220.1C1115.7 1215.9 1117.1 1219.4 1118.3 1215.9C1119.5 1212.4 1120.7 1203.3 1121.9 1199.1C1123.0 1195.0 1123.8 1190.8 1125.0 1190.8C1126.2 1191.5 1127.4 1199.3 1129.2 1203.3C1130.9 1207.3 1133.7 1213.8 1135.5 1214.8C1137.2 1214.8 1137.7 1214.8 1139.7 1209.6C1141.6 1203.9 1145.3 1183.1 1147.0 1180.3C1148.7 1180.3 1149.1 1188.1 1150.1 1192.9C1151.2 1197.6 1151.9 1208.2 1153.3 1208.6C1154.7 1208.6 1156.6 1199.3 1158.5 1195.0C1160.4 1190.6 1163.1 1182.4 1164.8 1182.4C1166.5 1182.7 1167.5 1196.7 1168.6 1197.0C1169.6 1197.0 1170.1 1184.8 1171.1 1184.5C1172.0 1184.5 1172.8 1193.6 1174.2 1195.0C1175.6 1195.0 1177.9 1193.6 1179.5 1192.9C1181.0 1192.2 1181.9 1192.9 1183.7 1190.8C1185.4 1188.1 1188.4 1178.2 1189.9 1177.1C1191.5 1177.1 1191.9 1182.0 1193.1 1184.5C1194.3 1186.9 1195.7 1191.3 1197.3 1191.8C1198.8 1191.8 1200.9 1189.5 1202.5 1187.6C1204.1 1185.7 1205.1 1183.4 1206.7 1180.3C1208.3 1177.1 1210.5 1169.5 1211.9 1168.8C1213.3 1168.8 1214.0 1172.6 1215.1 1176.1C1216.1 1179.6 1216.8 1188.0 1218.2 1189.7C1219.6 1189.7 1221.7 1188.1 1223.5 1186.6C1225.2 1185.0 1227.1 1182.2 1228.7 1180.3C1230.3 1178.4 1232.2 1175.9 1232.9 1175.1" stroke="#619CFF"/>
</g>
<rect x="132.20" y="1018.06" width="1153.10" height="232.80" fill="none" stroke="#333333" stroke-width="1.6"/>
<line x1="131.40" y1="1018.06" x2="1286.10" y2="1018.06" stroke="#333333" stroke-width="3.2"/>
<line x1="122.9" y1="1032.10" x2="132.20" y2="1032.10" stroke="#333333" stroke-width="2.8"/>
<text x="114.75" y="1042.60" font-size="25.2" fill="#4D4D4D" text-anchor="end">9</text>
<line x1="122.9" y1="1073.43" x2="132.20" y2="1073.43" stroke="#333333" stroke-width="2.8"/>
<text x="114.75" y="1083.93" font-size="25.2" fill="#4D4D4D" text-anchor="end">8</text>
<line x1="122.9" y1="1114.76" x2="132.20" y2="1114.76" stroke="#333333" stroke-width="2.8"/>
<text x="114.75" y="1125.26" font-size="25.2" fill="#4D4D4D" text-anchor="end">7</text>
<line x1="122.9" y1="1156.09" x2="132.20" y2="1156.09" stroke="#333333" stroke-width="2.8"/>
<text x="114.75" y="1166.59" font-size="25.2" fill="#4D4D4D" text-anchor="end">6</text>
<line x1="122.9" y1="1197.42" x2="132.20" y2="1197.42" stroke="#333333" stroke-width="2.8"/>
<text x="114.75" y="1207.92" font-size="25.2" fill="#4D4D4D" text-anchor="end">5</text>
<line x1="122.9" y1="1238.75" x2="132.20" y2="1238.75" stroke="#333333" stroke-width="2.8"/>
<text x="114.75" y="1249.25" font-size="25.2" fill="#4D4D4D" text-anchor="end">4</text>
<rect x="132.20" y="1269.12" width="1153.10" height="51.50" fill="#D9D9D9" stroke="#333333" stroke-width="1.6"/>
<text transform="translate(614.61,1305.00) scale(0.9444,1)" font-size="32.41" fill="#1A1A1A" >Turbidity (FNU)</text>
<rect x="132.20" y="1320.62" width="1153.10" height="232.80" fill="#fff"/>
<path d="M132.2 1348.26H1285.3M132.2 1404.07H1285.3M132.2 1459.88H1285.3M132.2 1515.69H1285.3M149.87 1320.6V1553.4M193.63 1320.6V1553.4M237.39 1320.6V1553.4M281.14 1320.6V1553.4M324.90 1320.6V1553.4M368.66 1320.6V1553.4M412.42 1320.6V1553.4M456.18 1320.6V1553.4M499.93 1320.6V1553.4M543.69 1320.6V1553.4M587.45 1320.6V1553.4M631.21 1320.6V1553.4M674.97 1320.6V1553.4M718.72 1320.6V1553.4M762.48 1320.6V1553.4M806.24 1320.6V1553.4M850.00 1320.6V1553.4M893.76 1320.6V1553.4M937.51 1320.6V1553.4M981.27 1320.6V1553.4M1025.03 1320.6V1553.4M1068.79 1320.6V1553.4M1112.55 1320.6V1553.4M1156.30 1320.6V1553.4M1200.06 1320.6V1553.4M1243.82 1320.6V1553.4" stroke="#EBEBEB" stroke-width="1.7" fill="none"/>
<path d="M132.2 1376.16H1285.3M132.2 1431.97H1285.3M132.2 1487.79H1285.3M132.2 1543.60H1285.3M171.75 1320.6V1553.4M215.51 1320.6V1553.4M259.27 1320.6V1553.4M303.02 1320.6V1553.4M346.78 1320.6V1553.4M390.54 1320.6V1553.4M434.30 1320.6V1553.4M478.06 1320.6V1553.4M521.81 1320.6V1553.4M565.57 1320.6V1553.4M609.33 1320.6V1553.4M653.09 1320.6V1553.4M696.85 1320.6V1553.4M740.60 1320.6V1553.4M784.36 1320.6V1553.4M828.12 1320.6V1553.4M871.88 1320.6V1553.4M915.64 1320.6V1553.4M959.39 1320.6V1553.4M1003.15 1320.6V1553.4M1046.91 1320.6V1553.4M1090.67 1320.6V1553.4M1134.43 1320.6V1553.4M1178.18 1320.6V1553.4M1221.94 1320.6V1553.4M1265.70 1320.6V1553.4" stroke="#EBEBEB" stroke-width="2.8" fill="none"/>
<g clip-path="url(#clip2)" fill="none" stroke-width="3.2" stroke-linejoin="round" stroke-linecap="butt">
<path d="M184.4 1543.6 L220.0 1543.6 L266.0 1543.6 L268.0 1534.7 L272.0 1533.6 L276.0 1532.9 L280.0 1534.7 L287.0 1538.0 L293.0 1538.7 L297.0 1536.9 L300.0 1538.0 L303.0 1536.2 L307.0 1537.3 L311.0 1539.1 L313.0 1541.8 L330.0 1543.4 L1232.0 1543.4" stroke="#F8766D"/>
<path d="M185.5 1543.6 L226.0 1543.6 L265.0 1542.9 L267.2 1542.5 L268.1 1331.5 L269.0 1542.5 L272.0 1543.2 L464.2 1542.9 L465.1 1540.5 L466.3 1540.5 L467.2 1542.9 L994.1 1542.9 L995.0 1514.6 L996.2 1514.6 L997.1 1542.9 L1019.4 1542.9 L1020.3 1340.4 L1021.5 1340.4 L1022.5 1530.2 L1025.0 1536.9 L1028.0 1540.9 L1027.5 1542.9 L1028.4 1528.0 L1029.6 1528.0 L1030.5 1542.9 L1030.3 1542.9 L1031.2 1510.6 L1032.4 1510.6 L1033.3 1542.9 L1040.8 1542.9 L1041.7 1506.8 L1042.9 1506.8 L1043.8 1542.9 L1043.5 1542.9 L1044.4 1523.5 L1045.6 1523.5 L1046.5 1542.9 L1051.9 1542.9 L1052.8 1521.3 L1054.0 1521.3 L1054.9 1542.9 L1074.1 1542.9 L1075.0 1521.9 L1076.2 1521.9 L1077.1 1542.9 L1084.8 1542.9 L1085.7 1534.7 L1086.9 1534.7 L1087.8 1542.9 L1096.3 1542.9 L1097.2 1536.9 L1098.4 1536.9 L1099.3 1542.9 L1172.7 1542.9 L1173.6 1532.4 L1174.8 1532.4 L1175.7 1542.9 L1188.0 1542.9 L1188.9 1532.0 L1190.1 1532.0 L1191.0 1542.9 L1194.7 1542.9 L1195.6 1531.1 L1196.8 1531.1 L1197.7 1542.9 L1216.7 1542.9 L1217.6 1520.4 L1218.8 1520.4 L1219.7 1542.9 L1232.0 1542.7 L1233.5 1539.6" stroke="#00BA38"/>
<path d="M226.3 1540.9 L227.2 1533.6 L228.5 1534.7 L230.0 1541.8 L231.0 1542.8 L234.5 1542.3 L238.0 1542.6 L241.5 1542.2 L245.0 1542.2 L248.5 1543.1 L250.8 1541.7 L252.0 1540.9 L253.2 1542.0 L255.0 1543.1 L258.5 1541.8 L262.0 1542.7 L265.5 1542.8 L268.8 1540.8 L270.0 1539.6 L271.2 1541.2 L273.0 1541.6 L276.5 1542.4 L280.0 1541.8 L283.5 1542.4 L287.0 1542.2 L290.5 1542.9 L294.0 1542.2 L297.5 1541.8 L301.0 1542.3 L304.5 1542.0 L308.0 1542.1 L311.5 1543.1 L315.7 1536.1 L316.9 1532.9 L318.1 1537.2 L319.9 1542.0 L323.4 1542.2 L326.9 1542.7 L331.8 1541.4 L333.0 1540.5 L334.2 1541.7 L336.0 1543.1 L339.5 1541.8 L343.0 1542.4 L346.5 1542.0 L350.0 1541.8 L353.5 1542.0 L358.0 1536.6 L359.2 1533.6 L360.4 1537.6 L362.2 1541.7 L365.7 1542.5 L369.2 1541.9 L372.7 1542.5 L376.2 1541.7 L379.7 1541.8 L383.2 1543.0 L386.7 1542.9 L390.2 1542.8 L393.7 1541.6 L397.2 1542.5 L400.7 1542.2 L404.2 1542.7 L407.7 1542.4 L411.2 1542.6 L414.7 1542.6 L418.2 1542.2 L421.8 1535.0 L423.0 1531.3 L424.2 1536.2 L426.0 1542.2 L429.5 1541.7 L433.0 1542.1 L436.5 1541.7 L440.0 1541.8 L443.5 1541.6 L447.0 1542.1 L450.5 1542.9 L454.0 1541.8 L457.5 1541.6 L461.0 1541.7 L464.8 1542.0 L466.0 1541.4 L467.2 1542.3 L469.0 1542.3 L472.5 1542.0 L476.0 1542.8 L479.5 1541.9 L483.0 1542.3 L486.5 1542.7 L490.0 1543.1 L493.5 1541.8 L497.0 1541.6 L500.5 1543.0 L504.0 1541.9 L507.5 1542.5 L511.0 1542.9 L514.5 1542.7 L518.0 1542.0 L521.5 1541.8 L525.0 1543.1 L530.3 1532.3 L531.5 1527.5 L532.7 1534.0 L534.5 1542.2 L538.0 1543.1 L541.5 1542.0 L545.0 1542.6 L548.5 1541.8 L552.0 1541.6 L554.8 1542.3 L556.0 1541.8 L557.2 1542.5 L559.0 1542.4 L562.5 1541.6 L566.0 1542.7 L569.5 1543.0 L573.0 1542.2 L576.5 1543.1 L580.0 1542.8 L583.5 1542.5 L587.0 1542.2 L590.5 1542.9 L594.0 1543.1 L597.3 1538.9 L598.5 1536.9 L599.7 1539.6 L601.5 1541.8 L605.0 1542.7 L608.5 1541.7 L612.0 1541.8 L615.5 1542.6 L619.0 1542.4 L622.5 1542.3 L626.0 1542.1 L629.5 1542.2 L633.0 1542.3 L636.5 1542.2 L640.0 1541.7 L642.6 1537.3 L643.8 1534.7 L645.0 1538.2 L646.8 1542.4 L650.3 1542.5 L653.8 1542.0 L657.3 1542.8 L660.8 1542.7 L664.3 1541.6 L667.8 1542.3 L671.3 1542.3 L674.8 1543.1 L678.3 1542.5 L681.8 1542.2 L685.3 1543.1 L688.8 1542.2 L692.3 1542.2 L695.8 1543.1 L698.8 1541.7 L700.0 1540.9 L701.2 1542.0 L703.0 1542.2 L706.5 1542.4 L710.0 1542.1 L713.5 1542.6 L717.0 1542.0 L720.5 1542.0 L724.0 1543.1 L727.5 1543.1 L731.0 1542.1 L734.5 1541.6 L738.0 1542.8 L741.5 1542.4 L745.0 1542.2 L748.5 1542.7 L752.0 1542.6 L755.5 1542.7 L758.8 1541.4 L760.0 1540.5 L761.2 1541.7 L763.0 1542.6 L766.5 1542.2 L770.0 1542.7 L773.5 1542.6 L777.0 1541.9 L780.5 1543.1 L784.0 1542.3 L787.5 1542.0 L791.0 1542.7 L794.5 1542.8 L798.0 1541.9 L801.5 1542.8 L805.0 1542.9 L808.8 1540.2 L810.0 1538.7 L811.2 1540.7 L813.0 1542.5 L816.5 1542.1 L820.0 1543.0 L823.5 1542.7 L827.0 1542.6 L830.5 1541.9 L834.0 1542.5 L837.5 1541.8 L841.0 1542.9 L844.5 1542.6 L848.0 1542.1 L851.5 1541.8 L855.0 1542.4 L858.5 1542.8 L862.0 1543.0 L865.5 1542.3 L869.0 1542.9 L872.5 1541.9 L876.0 1541.8 L878.8 1540.8 L880.0 1539.6 L881.2 1541.2 L883.0 1542.9 L886.5 1542.7 L890.0 1541.9 L893.5 1542.2 L897.0 1541.9 L900.5 1542.6 L904.0 1543.0 L907.5 1542.7 L911.0 1541.9 L914.5 1542.7 L918.0 1542.6 L921.5 1542.5 L923.8 1537.3 L925.0 1534.7 L926.2 1538.2 L928.0 1542.5 L931.5 1542.5 L935.0 1541.7 L938.5 1542.9 L942.0 1543.1 L945.5 1541.7 L949.0 1541.8 L952.5 1541.6 L956.0 1542.5 L958.8 1541.7 L960.0 1540.9 L961.2 1542.0 L963.0 1541.7 L966.5 1541.7 L970.0 1542.8 L973.5 1542.0 L977.0 1541.8 L980.5 1542.1 L984.0 1542.3 L989.1 1534.2 L990.3 1530.2 L991.5 1535.6 L993.3 1542.7 L996.8 1542.6 L1000.3 1542.8 L1003.8 1543.0 L1007.3 1542.2 L1010.8 1542.7 L1014.3 1541.9 L1017.8 1543.1 L1021.3 1541.7 L1024.8 1542.1 L1028.3 1541.7 L1031.8 1541.8 L1033.8 1539.7 L1035.0 1538.0 L1036.2 1540.3 L1038.0 1541.7 L1041.5 1542.3 L1045.0 1543.1 L1048.5 1542.0 L1052.0 1542.9 L1056.8 1541.7 L1058.0 1540.9 L1059.2 1542.0 L1061.0 1542.7 L1064.5 1542.1 L1068.0 1542.3 L1071.5 1542.5 L1075.0 1541.7 L1078.8 1540.8 L1080.0 1539.6 L1081.2 1541.2 L1083.0 1542.2 L1086.5 1542.6 L1090.0 1542.8 L1093.5 1541.8 L1097.0 1542.4 L1100.5 1541.9 L1105.8 1542.0 L1107.0 1541.4 L1108.2 1542.3 L1110.0 1542.6 L1113.5 1542.8 L1117.0 1542.3 L1120.5 1541.9 L1124.0 1542.9 L1127.5 1541.9 L1131.0 1541.7 L1134.5 1541.9 L1138.0 1541.9 L1141.5 1543.1 L1145.0 1542.2 L1148.3 1540.2 L1149.5 1538.7 L1150.7 1540.7 L1152.5 1541.8 L1156.0 1543.1 L1159.5 1542.7 L1163.0 1542.7 L1166.8 1538.9 L1168.0 1536.9 L1169.2 1539.6 L1171.0 1542.3 L1174.5 1542.5 L1178.0 1542.4 L1181.5 1541.9 L1185.0 1543.2 L1188.5 1543.1 L1192.0 1543.0 L1195.5 1543.0 L1198.8 1542.0 L1200.0 1541.4 L1201.2 1542.3 L1203.0 1543.0 L1206.5 1541.6 L1210.0 1541.8 L1213.5 1543.0 L1217.0 1542.4 L1220.5 1542.7 L1224.0 1542.7 L1227.5 1542.6 L1231.0 1542.1" stroke="#619CFF"/>
</g>
<rect x="132.20" y="1320.62" width="1153.10" height="232.80" fill="none" stroke="#333333" stroke-width="1.6"/>
<line x1="131.40" y1="1320.62" x2="1286.10" y2="1320.62" stroke="#333333" stroke-width="3.2"/>
<line x1="122.9" y1="1376.16" x2="132.20" y2="1376.16" stroke="#333333" stroke-width="2.8"/>
<text x="111.50" y="1386.66" font-size="25.2" fill="#4D4D4D" text-anchor="end">750</text>
<line x1="122.9" y1="1431.97" x2="132.20" y2="1431.97" stroke="#333333" stroke-width="2.8"/>
<text x="111.50" y="1442.47" font-size="25.2" fill="#4D4D4D" text-anchor="end">500</text>
<line x1="122.9" y1="1487.79" x2="132.20" y2="1487.79" stroke="#333333" stroke-width="2.8"/>
<text x="111.50" y="1498.29" font-size="25.2" fill="#4D4D4D" text-anchor="end">250</text>
<line x1="122.9" y1="1543.60" x2="132.20" y2="1543.60" stroke="#333333" stroke-width="2.8"/>
<text x="114.75" y="1554.10" font-size="25.2" fill="#4D4D4D" text-anchor="end">0</text>
<rect x="132.20" y="1571.68" width="1153.10" height="51.50" fill="#D9D9D9" stroke="#333333" stroke-width="1.6"/>
<text transform="translate(563.2,1607.7) scale(0.955,1)" font-size="32.4" fill="#1A1A1A">Conductivity (<tspan font-style="italic">μ</tspan>S cm<tspan dy="-9" font-size="20">−1</tspan><tspan dy="9">)</tspan></text>
<rect x="132.20" y="1623.18" width="1153.10" height="232.80" fill="#fff"/>
<path d="M132.2 1661.67H1285.3M132.2 1706.25H1285.3M132.2 1750.83H1285.3M132.2 1795.41H1285.3M132.2 1839.99H1285.3M149.87 1623.2V1856.0M193.63 1623.2V1856.0M237.39 1623.2V1856.0M281.14 1623.2V1856.0M324.90 1623.2V1856.0M368.66 1623.2V1856.0M412.42 1623.2V1856.0M456.18 1623.2V1856.0M499.93 1623.2V1856.0M543.69 1623.2V1856.0M587.45 1623.2V1856.0M631.21 1623.2V1856.0M674.97 1623.2V1856.0M718.72 1623.2V1856.0M762.48 1623.2V1856.0M806.24 1623.2V1856.0M850.00 1623.2V1856.0M893.76 1623.2V1856.0M937.51 1623.2V1856.0M981.27 1623.2V1856.0M1025.03 1623.2V1856.0M1068.79 1623.2V1856.0M1112.55 1623.2V1856.0M1156.30 1623.2V1856.0M1200.06 1623.2V1856.0M1243.82 1623.2V1856.0" stroke="#EBEBEB" stroke-width="1.7" fill="none"/>
<path d="M132.2 1639.38H1285.3M132.2 1683.96H1285.3M132.2 1728.54H1285.3M132.2 1773.12H1285.3M132.2 1817.70H1285.3M171.75 1623.2V1856.0M215.51 1623.2V1856.0M259.27 1623.2V1856.0M303.02 1623.2V1856.0M346.78 1623.2V1856.0M390.54 1623.2V1856.0M434.30 1623.2V1856.0M478.06 1623.2V1856.0M521.81 1623.2V1856.0M565.57 1623.2V1856.0M609.33 1623.2V1856.0M653.09 1623.2V1856.0M696.85 1623.2V1856.0M740.60 1623.2V1856.0M784.36 1623.2V1856.0M828.12 1623.2V1856.0M871.88 1623.2V1856.0M915.64 1623.2V1856.0M959.39 1623.2V1856.0M1003.15 1623.2V1856.0M1046.91 1623.2V1856.0M1090.67 1623.2V1856.0M1134.43 1623.2V1856.0M1178.18 1623.2V1856.0M1221.94 1623.2V1856.0M1265.70 1623.2V1856.0" stroke="#EBEBEB" stroke-width="2.8" fill="none"/>
<g clip-path="url(#clip3)" fill="none" stroke-width="3.2" stroke-linejoin="round" stroke-linecap="butt">
<path d="M183.4 1815.7C184.6 1815.4 187.9 1814.2 190.7 1814.2C193.5 1814.5 196.6 1817.8 200.1 1817.8C203.6 1817.8 208.0 1814.4 211.7 1814.2C215.3 1814.2 218.5 1816.7 222.1 1816.7C225.8 1816.6 230.0 1813.6 233.7 1813.6C237.3 1813.6 240.6 1816.7 244.1 1816.7C247.6 1816.7 250.9 1813.6 254.6 1813.6C258.3 1813.6 263.7 1816.7 266.1 1816.7C268.6 1816.5 268.6 1816.7 269.3 1812.5L270.3 1653.3C271.0 1650.8 271.9 1651.2 273.4 1650.8C275.0 1650.8 278.2 1650.8 279.7 1651.2C281.3 1651.6 281.8 1652.3 282.9 1653.3C283.9 1654.4 285.0 1655.1 286.0 1657.5C287.1 1660.0 288.5 1665.0 289.2 1668.0L290.2 1675.3C290.7 1677.4 291.4 1679.3 292.3 1680.6C293.2 1681.8 294.4 1682.0 295.4 1682.7C296.5 1683.3 297.7 1683.3 298.6 1684.7C299.5 1686.1 300.0 1687.9 300.7 1691.0C301.4 1694.2 302.1 1697.3 302.8 1703.6C303.5 1709.9 304.2 1721.8 304.9 1728.7C305.6 1735.7 306.3 1738.5 307.0 1745.5C307.7 1752.5 308.5 1761.2 309.1 1770.6L310.1 1802.0L311.2 1809.4C312.0 1809.4 313.9 1807.3 315.3 1806.2C316.7 1805.2 318.1 1803.1 319.5 1803.1C320.9 1803.1 322.3 1805.2 323.7 1806.2C325.1 1807.3 326.2 1808.5 327.9 1809.4C329.7 1810.2 332.1 1811.5 334.2 1811.5C336.3 1811.3 338.4 1809.0 340.5 1808.3C342.6 1807.6 345.0 1807.3 346.8 1807.3C348.5 1807.5 349.4 1808.3 351.0 1809.4C352.5 1810.4 354.4 1813.6 356.2 1813.6C357.9 1812.5 359.7 1805.5 361.4 1803.1C363.2 1800.6 365.1 1798.9 366.7 1798.9C368.2 1799.4 369.3 1803.4 370.8 1806.2C372.4 1809.0 373.8 1814.3 376.1 1815.7C378.4 1815.7 382.0 1814.9 384.5 1814.6C386.9 1814.4 388.3 1814.2 390.7 1814.2C393.2 1814.5 396.3 1816.3 399.1 1816.3C401.9 1816.2 404.7 1814.0 407.5 1813.6C410.3 1813.6 413.6 1813.6 415.9 1813.6C418.2 1813.9 419.0 1815.7 421.1 1815.7C423.2 1815.7 425.5 1813.9 428.5 1813.6C431.4 1813.6 434.9 1813.6 438.9 1813.6C442.9 1813.1 448.1 1811.2 452.4 1811.0C456.7 1811.0 461.2 1812.6 464.8 1812.6C468.4 1812.3 471.0 1809.7 474.1 1809.5C477.2 1809.5 479.8 1811.0 483.4 1811.0C487.1 1810.8 491.7 1807.9 495.9 1807.9C500.0 1807.9 504.6 1810.8 508.3 1811.0C511.9 1811.0 514.0 1809.5 517.6 1809.5C521.2 1809.7 526.4 1812.4 530.0 1812.6C533.6 1812.6 535.7 1810.4 539.3 1810.4C542.9 1810.4 548.1 1812.6 551.7 1812.6C555.3 1812.5 557.9 1810.1 561.0 1810.1C564.1 1810.1 566.7 1812.6 570.3 1812.6C574.0 1812.5 578.6 1809.6 582.7 1809.5C586.9 1809.5 591.5 1811.7 595.2 1811.7C598.8 1811.7 600.8 1809.6 604.5 1809.5C608.1 1809.5 613.3 1811.0 616.9 1811.0C620.5 1811.0 622.6 1809.5 626.2 1809.5C629.8 1809.7 634.5 1812.6 638.6 1812.6C642.7 1812.6 646.9 1809.7 651.0 1809.5C655.2 1809.5 659.8 1811.0 663.4 1811.0C667.0 1810.9 669.1 1808.9 672.7 1808.9C676.4 1809.0 681.0 1811.9 685.2 1812.0C689.3 1812.0 693.9 1809.6 697.6 1809.5C701.2 1809.5 704.3 1811.0 706.9 1811.0C709.5 1810.8 710.5 1807.9 713.1 1807.9C715.7 1807.9 718.8 1811.0 722.4 1811.0C726.0 1810.9 730.7 1807.3 734.8 1807.3C738.9 1807.3 743.6 1810.9 747.2 1811.0C750.8 1811.0 752.9 1807.9 756.5 1807.9C760.1 1808.2 764.8 1812.3 768.9 1812.6C773.1 1812.6 777.2 1809.5 781.3 1809.5C785.5 1809.7 790.4 1813.9 793.8 1814.1C797.1 1814.1 798.4 1811.0 801.5 1811.0C804.6 1811.4 809.0 1816.2 812.4 1816.6C815.7 1816.6 818.6 1813.5 821.7 1813.5C824.8 1813.9 827.5 1818.4 831.0 1818.8C834.5 1818.8 839.0 1816.1 842.9 1816.1C846.7 1816.4 849.9 1820.1 853.9 1820.2C857.8 1820.2 862.5 1817.1 866.4 1817.1C870.3 1817.1 873.8 1820.2 877.4 1820.2C881.1 1820.1 884.5 1816.3 888.4 1816.1C892.3 1816.1 897.3 1819.3 901.0 1819.3C904.6 1819.3 906.7 1816.5 910.4 1816.1C914.1 1816.1 919.3 1817.1 923.0 1817.1C926.6 1816.6 929.0 1813.4 932.4 1813.0C935.8 1813.0 939.7 1814.6 943.4 1814.6C947.1 1814.2 950.5 1811.1 954.4 1810.8C958.3 1810.8 963.0 1813.0 967.0 1813.0C970.9 1812.8 974.3 1809.8 978.0 1809.8C981.6 1809.8 985.6 1813.0 989.0 1813.0C992.4 1813.0 996.3 1811.3 998.4 1809.8C1000.5 1808.4 1000.2 1804.7 1001.5 1804.5C1002.8 1804.5 1004.1 1807.8 1006.2 1808.9C1008.3 1810.1 1011.7 1811.3 1014.1 1811.4C1016.4 1811.4 1018.3 1810.1 1020.4 1809.8C1022.5 1809.8 1024.8 1809.8 1026.7 1809.8C1028.5 1809.5 1028.8 1807.8 1031.4 1807.6C1034.0 1807.6 1038.4 1808.5 1042.4 1808.9C1046.3 1809.3 1051.0 1809.8 1054.9 1809.8C1058.9 1809.6 1062.3 1807.6 1065.9 1807.6C1069.6 1807.6 1073.5 1809.7 1076.9 1809.8C1080.3 1809.8 1082.7 1808.3 1086.4 1808.3C1090.0 1808.4 1095.3 1810.8 1098.9 1810.8C1102.6 1810.8 1104.7 1808.4 1108.4 1808.3C1112.0 1808.3 1117.3 1809.8 1120.9 1809.8C1124.6 1809.6 1127.2 1806.9 1130.3 1806.7C1133.5 1806.7 1136.4 1808.9 1139.8 1808.9C1143.2 1808.5 1147.1 1804.7 1150.8 1804.5C1154.4 1804.5 1158.4 1807.6 1161.8 1807.6C1165.2 1807.6 1167.5 1804.5 1171.2 1804.5C1174.9 1804.7 1179.8 1808.5 1183.8 1808.9C1187.7 1808.9 1190.8 1806.7 1194.8 1806.7C1198.7 1807.0 1203.4 1810.8 1207.3 1810.8C1211.3 1810.8 1214.7 1806.7 1218.3 1806.7C1222.0 1806.7 1227.5 1810.1 1229.3 1810.8" stroke="#F8766D"/>
<path d="M187.1 1819.8C189.3 1820.0 196.1 1820.9 200.1 1820.9C204.2 1820.8 208.0 1819.2 211.7 1819.2C215.3 1819.2 218.6 1820.9 222.1 1820.9C225.6 1820.9 228.9 1819.2 232.6 1819.2C236.3 1819.2 240.5 1820.8 244.1 1820.9C247.8 1820.9 250.8 1820.0 254.6 1819.8C258.4 1819.8 264.6 1819.8 266.7 1819.8L267.6 1633.4L269.0 1819.8C271.1 1819.8 276.6 1819.8 279.7 1819.8C282.9 1820.2 285.3 1821.9 288.1 1821.9C290.9 1821.9 293.0 1819.8 296.5 1819.8C300.0 1819.8 305.6 1821.9 309.1 1821.9C312.5 1821.9 313.9 1819.8 317.4 1819.8C320.9 1819.8 326.2 1821.9 330.0 1821.9C333.8 1821.9 336.6 1819.8 340.5 1819.8C344.3 1819.8 349.2 1821.9 353.0 1821.9C356.9 1821.9 359.7 1819.8 363.5 1819.8C367.4 1819.8 372.6 1821.9 376.1 1821.9C379.6 1821.9 381.0 1819.8 384.5 1819.8C388.0 1819.8 393.5 1821.9 397.0 1821.9C400.5 1821.9 401.9 1820.0 405.4 1819.8C408.9 1819.8 414.5 1820.9 418.0 1820.9C421.5 1820.7 423.2 1819.2 426.4 1818.8C429.5 1818.8 432.5 1818.8 436.8 1818.8C441.2 1818.8 447.7 1818.8 452.4 1818.8C457.1 1818.6 460.7 1818.4 464.8 1817.9C469.0 1817.3 473.1 1816.0 477.2 1815.7C481.4 1815.7 485.5 1815.7 489.7 1815.7C493.8 1816.0 497.9 1817.7 502.1 1817.9C506.2 1817.9 510.1 1816.6 514.5 1816.6C518.9 1816.9 523.8 1819.6 528.4 1819.7C533.1 1819.7 537.5 1817.8 542.4 1817.2C547.3 1816.7 553.3 1816.6 557.9 1816.6C562.6 1816.7 566.2 1817.9 570.3 1817.9C574.5 1817.7 577.6 1816.0 582.7 1815.7C587.9 1815.7 596.2 1815.7 601.4 1815.7C606.5 1815.9 609.6 1817.1 613.8 1817.2C617.9 1817.2 622.1 1816.6 626.2 1816.6C630.3 1816.6 634.5 1817.2 638.6 1817.2C642.7 1817.1 646.9 1815.8 651.0 1815.7C655.2 1815.7 659.3 1816.6 663.4 1816.6C667.6 1816.5 671.7 1814.9 675.8 1814.8C680.0 1814.8 683.6 1815.7 688.3 1815.7C692.9 1815.7 698.6 1815.1 703.8 1814.8C708.9 1814.4 714.1 1813.6 719.3 1813.5C724.5 1813.5 730.1 1813.8 734.8 1814.1C739.5 1814.5 743.1 1815.4 747.2 1815.7C751.4 1815.7 755.0 1815.7 759.6 1815.7C764.3 1815.8 770.5 1816.3 775.1 1816.6C779.8 1817.0 783.4 1817.9 787.6 1817.9C791.7 1817.9 795.8 1816.6 800.0 1816.6C804.1 1816.8 808.2 1818.3 812.4 1818.8C816.5 1819.3 821.7 1819.2 824.8 1819.7C827.9 1820.2 827.2 1821.4 831.0 1821.9C834.8 1822.3 842.7 1822.4 847.6 1822.4C852.4 1822.3 855.4 1821.5 860.1 1821.5C864.8 1821.6 871.1 1823.4 875.8 1823.4C880.6 1823.4 884.2 1821.6 888.4 1821.5C892.6 1821.5 896.8 1822.4 901.0 1822.4C905.2 1822.3 909.4 1821.4 913.5 1820.8C917.7 1820.3 921.9 1819.7 926.1 1819.3C930.3 1818.9 934.5 1818.9 938.7 1818.3C942.9 1817.8 947.1 1816.5 951.3 1816.1C955.4 1816.1 959.6 1816.1 963.8 1816.1C968.0 1816.3 971.7 1816.9 976.4 1817.1C981.1 1817.1 987.4 1817.1 992.1 1817.1C996.8 1816.8 1000.2 1815.6 1004.7 1815.2C1009.2 1814.8 1016.5 1815.2 1019.1 1814.6C1020.4 1811.8 1019.9 1798.9 1020.4 1798.9C1020.8 1798.9 1020.4 1811.9 1021.9 1814.6C1023.5 1814.6 1026.4 1814.6 1029.8 1814.6C1033.2 1814.2 1038.2 1812.5 1042.4 1812.4C1046.6 1812.4 1050.7 1813.8 1054.9 1813.9C1059.1 1813.9 1063.3 1813.0 1067.5 1813.0C1071.7 1813.0 1075.9 1813.7 1080.1 1813.9C1084.3 1814.2 1088.5 1814.6 1092.6 1814.6C1096.8 1814.3 1101.0 1812.5 1105.2 1812.4C1109.4 1812.4 1113.6 1813.9 1117.8 1813.9C1122.0 1813.8 1126.7 1811.7 1130.3 1811.4C1134.0 1811.4 1136.6 1812.0 1139.8 1812.0C1142.9 1811.6 1145.5 1809.0 1149.2 1808.9C1152.9 1808.9 1157.6 1811.2 1161.8 1811.4C1166.0 1811.4 1170.1 1810.5 1174.3 1810.5C1178.5 1810.9 1182.7 1813.3 1186.9 1813.9C1191.1 1814.6 1195.3 1814.6 1199.5 1814.6C1203.7 1814.6 1208.4 1813.9 1212.0 1813.9C1215.7 1813.9 1218.1 1814.3 1221.5 1814.6C1224.9 1814.8 1230.6 1815.3 1232.5 1815.5" stroke="#00BA38"/>
<path d="M226.9 1842.9C228.8 1842.9 235.0 1842.9 237.8 1842.9C240.7 1843.1 241.7 1843.9 244.1 1843.9C246.6 1843.7 249.7 1841.8 252.5 1841.4C255.3 1841.4 258.4 1841.4 260.9 1841.8C263.3 1842.3 264.7 1843.9 267.2 1843.9C269.6 1843.9 273.3 1842.9 275.5 1841.8C277.8 1840.8 279.4 1837.8 280.8 1837.7C282.2 1837.7 282.0 1840.1 283.9 1840.8C285.8 1841.5 288.8 1841.4 292.3 1841.8C295.8 1842.3 300.7 1843.5 304.9 1843.5C309.1 1843.5 313.2 1841.8 317.4 1841.8C321.6 1842.1 326.2 1844.8 330.0 1845.0C333.8 1845.0 337.0 1842.9 340.5 1842.9C344.0 1843.1 347.8 1845.9 351.0 1846.0C354.1 1846.0 356.9 1843.8 359.3 1843.5C361.8 1843.5 362.8 1844.3 365.6 1844.4C368.4 1844.4 372.6 1844.0 376.1 1843.9C379.6 1843.9 383.1 1843.9 386.6 1843.9C390.1 1843.8 393.9 1843.4 397.0 1842.9C400.2 1842.4 402.3 1841.1 405.4 1840.8C408.6 1840.8 413.6 1840.8 415.9 1840.8C418.2 1840.3 417.3 1837.8 419.0 1837.7C420.8 1837.7 423.7 1839.7 426.4 1839.7C429.0 1839.7 432.6 1837.4 434.7 1837.2C436.8 1837.2 436.5 1838.4 438.9 1838.7C441.4 1839.0 446.5 1839.0 449.3 1839.0C452.1 1838.2 453.4 1834.3 455.5 1834.3C457.6 1834.4 459.1 1838.8 461.7 1839.6C464.3 1839.6 467.4 1839.0 471.0 1839.0C474.7 1839.2 479.8 1841.1 483.4 1841.1C487.1 1841.0 489.1 1838.4 492.8 1838.0C496.4 1838.0 501.5 1838.5 505.2 1839.0C508.8 1839.4 510.9 1840.5 514.5 1840.5C518.1 1840.5 522.8 1839.0 526.9 1839.0C531.0 1839.1 535.2 1840.9 539.3 1841.4C543.4 1842.0 547.6 1842.1 551.7 1842.1C555.9 1841.9 560.5 1840.5 564.1 1840.5C567.7 1840.5 571.3 1842.1 573.4 1842.1C575.6 1841.4 575.1 1837.3 577.2 1836.5C579.2 1836.5 582.3 1837.0 585.8 1837.4C589.4 1837.8 594.6 1838.4 598.3 1839.0C601.9 1839.5 604.0 1840.5 607.6 1840.5C611.2 1840.4 615.8 1838.6 620.0 1838.3C624.1 1838.3 628.8 1838.9 632.4 1839.0C636.0 1839.0 639.6 1839.0 641.7 1839.0C643.8 1838.4 643.3 1836.6 644.8 1835.9C646.4 1835.1 649.5 1835.8 651.0 1834.3C652.6 1832.9 653.1 1827.2 654.1 1827.2C655.2 1827.2 655.7 1832.6 657.2 1834.3C658.8 1836.0 660.3 1836.7 663.4 1837.4C666.5 1838.1 671.7 1837.9 675.8 1838.3C680.0 1838.8 683.6 1839.5 688.3 1839.9C692.9 1840.3 698.6 1840.3 703.8 1840.5C708.9 1840.7 714.1 1841.1 719.3 1841.1C724.5 1841.1 729.6 1840.8 734.8 1840.5C740.0 1840.3 745.7 1839.7 750.3 1839.6C755.0 1839.6 758.6 1839.6 762.7 1839.9C766.9 1840.2 771.5 1841.3 775.1 1841.4C778.8 1841.4 782.4 1841.1 784.5 1840.5C786.5 1839.9 786.0 1838.0 787.6 1838.0C789.1 1838.0 790.7 1840.2 793.8 1840.5C796.9 1840.5 802.0 1839.9 806.2 1839.9C810.3 1840.1 814.5 1841.4 818.6 1842.1C822.7 1842.7 826.2 1843.5 831.0 1843.6C835.8 1843.6 842.7 1843.1 847.6 1842.8C852.4 1842.6 855.9 1842.6 860.1 1842.2C864.3 1841.8 868.5 1840.7 872.7 1840.3C876.9 1839.9 881.1 1839.7 885.3 1839.7C889.5 1839.9 893.7 1841.3 897.8 1841.3C902.0 1841.3 906.2 1839.7 910.4 1839.7C914.6 1839.7 918.8 1841.3 923.0 1841.3C927.2 1841.3 932.9 1840.2 935.5 1839.7C938.2 1839.2 937.1 1838.1 938.7 1838.1C940.3 1838.2 942.4 1840.3 945.0 1840.3C947.6 1840.3 950.7 1838.2 954.4 1838.1C958.1 1838.1 962.8 1839.4 967.0 1839.7C971.2 1839.7 976.8 1839.7 979.5 1839.7C982.3 1839.2 981.7 1836.6 983.3 1836.6C984.9 1836.7 986.4 1840.2 989.0 1840.6C991.5 1840.6 994.7 1839.2 998.4 1839.1C1002.0 1839.1 1007.3 1839.3 1011.0 1839.7C1014.6 1840.1 1016.7 1841.3 1020.4 1841.3C1024.0 1841.0 1029.3 1838.4 1032.9 1838.1C1036.6 1838.1 1038.7 1839.4 1042.4 1839.7C1046.0 1839.7 1050.7 1839.7 1054.9 1839.7C1059.1 1839.8 1063.3 1840.3 1067.5 1840.3C1071.7 1840.3 1076.9 1840.2 1080.1 1839.7C1083.2 1839.2 1084.3 1837.5 1086.4 1837.5C1088.5 1837.5 1091.1 1839.7 1092.6 1839.7C1094.2 1839.5 1093.7 1836.8 1095.8 1836.6C1097.9 1836.6 1102.6 1838.1 1105.2 1838.1C1107.8 1838.1 1109.4 1836.9 1111.5 1836.6C1113.6 1836.2 1115.2 1835.9 1117.8 1835.9C1120.4 1835.9 1124.1 1835.9 1127.2 1836.6C1130.3 1837.2 1133.0 1838.9 1136.6 1839.7C1140.3 1840.5 1145.0 1840.9 1149.2 1841.3C1153.4 1841.6 1157.6 1841.6 1161.8 1841.9C1166.0 1842.2 1171.2 1842.8 1174.3 1842.8C1177.5 1842.3 1178.0 1838.9 1180.6 1838.8C1183.2 1838.8 1185.9 1842.1 1190.0 1842.2C1194.2 1842.2 1201.0 1840.4 1205.8 1839.7C1210.5 1839.0 1215.2 1838.1 1218.3 1838.1C1221.5 1838.2 1222.2 1840.0 1224.6 1840.3C1227.0 1840.3 1231.2 1840.3 1232.5 1840.3" stroke="#619CFF"/>
</g>
<rect x="132.20" y="1623.18" width="1153.10" height="232.80" fill="none" stroke="#333333" stroke-width="1.6"/>
<line x1="131.40" y1="1623.18" x2="1286.10" y2="1623.18" stroke="#333333" stroke-width="3.2"/>
<line x1="122.9" y1="1639.38" x2="132.20" y2="1639.38" stroke="#333333" stroke-width="2.8"/>
<text x="109.50" y="1649.88" font-size="25.2" fill="#4D4D4D" text-anchor="end">5000</text>
<line x1="122.9" y1="1683.96" x2="132.20" y2="1683.96" stroke="#333333" stroke-width="2.8"/>
<text x="109.50" y="1694.46" font-size="25.2" fill="#4D4D4D" text-anchor="end">4000</text>
<line x1="122.9" y1="1728.54" x2="132.20" y2="1728.54" stroke="#333333" stroke-width="2.8"/>
<text x="109.50" y="1739.04" font-size="25.2" fill="#4D4D4D" text-anchor="end">3000</text>
<line x1="122.9" y1="1773.12" x2="132.20" y2="1773.12" stroke="#333333" stroke-width="2.8"/>
<text x="109.50" y="1783.62" font-size="25.2" fill="#4D4D4D" text-anchor="end">2000</text>
<line x1="122.9" y1="1817.70" x2="132.20" y2="1817.70" stroke="#333333" stroke-width="2.8"/>
<text x="109.50" y="1828.20" font-size="25.2" fill="#4D4D4D" text-anchor="end">1000</text>
<rect x="132.20" y="1874.24" width="1153.10" height="51.50" fill="#D9D9D9" stroke="#333333" stroke-width="1.6"/>
<text transform="translate(689.95,1909.80) scale(0.9970,1)" font-size="31.98" fill="#1A1A1A" >pH</text>
<rect x="132.20" y="1925.74" width="1153.10" height="232.80" fill="#fff"/>
<path d="M132.2 1961.14H1285.3M132.2 1997.22H1285.3M132.2 2033.30H1285.3M132.2 2069.38H1285.3M132.2 2105.46H1285.3M132.2 2141.54H1285.3M149.87 1925.7V2158.5M193.63 1925.7V2158.5M237.39 1925.7V2158.5M281.14 1925.7V2158.5M324.90 1925.7V2158.5M368.66 1925.7V2158.5M412.42 1925.7V2158.5M456.18 1925.7V2158.5M499.93 1925.7V2158.5M543.69 1925.7V2158.5M587.45 1925.7V2158.5M631.21 1925.7V2158.5M674.97 1925.7V2158.5M718.72 1925.7V2158.5M762.48 1925.7V2158.5M806.24 1925.7V2158.5M850.00 1925.7V2158.5M893.76 1925.7V2158.5M937.51 1925.7V2158.5M981.27 1925.7V2158.5M1025.03 1925.7V2158.5M1068.79 1925.7V2158.5M1112.55 1925.7V2158.5M1156.30 1925.7V2158.5M1200.06 1925.7V2158.5M1243.82 1925.7V2158.5" stroke="#EBEBEB" stroke-width="1.7" fill="none"/>
<path d="M132.2 1943.10H1285.3M132.2 1979.18H1285.3M132.2 2015.26H1285.3M132.2 2051.34H1285.3M132.2 2087.42H1285.3M132.2 2123.50H1285.3M171.75 1925.7V2158.5M215.51 1925.7V2158.5M259.27 1925.7V2158.5M303.02 1925.7V2158.5M346.78 1925.7V2158.5M390.54 1925.7V2158.5M434.30 1925.7V2158.5M478.06 1925.7V2158.5M521.81 1925.7V2158.5M565.57 1925.7V2158.5M609.33 1925.7V2158.5M653.09 1925.7V2158.5M696.85 1925.7V2158.5M740.60 1925.7V2158.5M784.36 1925.7V2158.5M828.12 1925.7V2158.5M871.88 1925.7V2158.5M915.64 1925.7V2158.5M959.39 1925.7V2158.5M1003.15 1925.7V2158.5M1046.91 1925.7V2158.5M1090.67 1925.7V2158.5M1134.43 1925.7V2158.5M1178.18 1925.7V2158.5M1221.94 1925.7V2158.5M1265.70 1925.7V2158.5" stroke="#EBEBEB" stroke-width="2.8" fill="none"/>
<g clip-path="url(#clip4)" fill="none" stroke-width="3.2" stroke-linejoin="round" stroke-linecap="butt">
<path d="M183.4 2020.3C183.7 2018.9 184.4 2013.6 185.5 2011.9C186.5 2010.1 188.3 2010.0 189.7 2009.8C191.1 2009.8 192.5 2010.1 193.9 2010.8C195.2 2011.5 196.3 2013.8 198.0 2014.0C199.8 2014.0 202.2 2012.6 204.3 2011.9C206.4 2011.2 208.5 2009.8 210.6 2009.8C212.7 2009.8 214.8 2011.7 216.9 2011.9C219.0 2011.9 221.1 2011.2 223.2 2010.8C225.3 2010.5 227.7 2010.1 229.5 2009.8C231.2 2009.4 231.9 2008.7 233.7 2008.7C235.4 2008.9 237.8 2010.8 239.9 2010.8C242.0 2010.8 244.1 2009.4 246.2 2008.7C248.3 2008.0 250.4 2006.8 252.5 2006.6C254.6 2006.6 256.6 2007.2 258.8 2007.7C261.0 2008.1 264.1 2007.7 265.5 2009.4L267.2 2125.0C267.8 2145.9 268.2 2142.1 269.3 2145.9C270.3 2148.0 271.7 2147.7 273.4 2148.0C275.2 2148.0 277.6 2148.0 279.7 2148.0C281.8 2147.9 284.1 2147.7 286.0 2147.0C287.9 2146.3 289.7 2144.9 291.3 2143.8C292.8 2142.8 293.9 2141.4 295.4 2140.7C297.0 2140.0 299.3 2140.7 300.7 2139.7C302.1 2138.6 302.8 2136.0 303.8 2134.4C304.9 2132.8 306.1 2131.4 307.0 2130.2C307.8 2129.0 308.5 2130.2 309.1 2127.1L310.1 2093.6L311.2 2062.2C311.7 2054.1 312.2 2048.4 313.2 2045.4C314.3 2044.3 316.4 2044.3 317.4 2044.3C318.5 2045.7 318.8 2053.6 319.5 2053.8C320.2 2053.8 320.6 2046.8 321.6 2045.4C322.7 2045.4 324.4 2045.4 325.8 2045.4C327.2 2045.0 328.8 2045.0 330.0 2043.3C331.2 2041.6 331.7 2036.8 333.1 2034.9C334.5 2033.0 336.8 2032.5 338.4 2031.8C340.0 2031.1 341.3 2030.7 342.6 2030.7C343.8 2031.3 344.5 2033.7 345.7 2034.9C346.9 2036.1 348.7 2038.1 349.9 2038.1C351.1 2037.7 351.8 2034.9 353.0 2032.8C354.3 2030.7 356.2 2026.4 357.2 2025.5C358.3 2025.5 358.6 2025.5 359.3 2027.6C360.0 2030.6 360.6 2040.0 361.4 2043.3C362.3 2046.6 363.7 2043.8 364.6 2047.5C365.4 2051.2 366.0 2063.2 366.7 2065.3C367.4 2065.3 368.1 2064.1 368.8 2060.1C369.5 2056.0 370.0 2046.4 370.8 2041.2C371.7 2036.0 372.8 2032.5 374.0 2028.6C375.2 2024.8 377.1 2022.4 378.2 2018.2C379.2 2014.0 379.6 2005.4 380.3 2003.5C381.0 2003.5 381.3 2006.1 382.4 2006.6C383.4 2006.6 385.3 2006.6 386.6 2006.6C387.8 2006.1 388.7 2003.5 389.7 2003.5C390.7 2003.7 391.8 2006.3 392.8 2007.7C393.9 2009.1 394.8 2011.9 396.0 2011.9C397.2 2011.9 398.6 2008.9 400.2 2007.7C401.7 2006.5 403.8 2005.1 405.4 2004.5C407.0 2004.5 408.2 2004.5 409.6 2004.5C411.0 2006.1 412.4 2012.2 413.8 2014.0C415.2 2015.0 416.6 2015.0 418.0 2015.0C419.4 2014.1 420.8 2010.3 422.2 2008.7C423.6 2007.2 424.8 2006.2 426.4 2005.6C427.9 2005.2 430.0 2005.2 431.6 2005.2C433.2 2005.5 434.6 2006.4 435.8 2007.7C437.0 2009.0 436.4 2012.9 438.9 2012.9C441.4 2012.7 447.3 2006.5 450.9 2006.5C454.4 2007.3 456.8 2017.4 460.2 2017.4C463.5 2016.9 467.2 2003.4 471.0 2003.4C474.9 2003.4 479.6 2017.4 483.4 2017.4C487.3 2017.4 490.7 2004.2 494.3 2003.4C497.9 2003.4 501.5 2012.8 505.2 2012.8C508.8 2012.2 512.7 2001.1 516.0 2000.3C519.4 2000.3 522.0 2008.1 525.3 2008.1C528.7 2007.8 532.3 1999.0 536.2 1998.8C540.1 1998.8 545.0 2006.5 548.6 2006.5C552.2 2006.5 554.3 1999.3 557.9 1998.8C561.5 1998.8 566.7 2003.4 570.3 2003.4C574.0 2003.2 576.0 1997.2 579.6 1997.2C583.3 1997.2 588.4 2003.4 592.1 2003.4C595.7 2003.4 597.7 1997.2 601.4 1997.2C605.0 1997.5 610.2 2005.0 613.8 2005.0C617.4 2004.9 619.5 1997.0 623.1 1996.6C626.7 1996.6 631.9 2002.8 635.5 2002.8C639.1 2002.7 641.2 1995.8 644.8 1995.7C648.4 1995.7 653.1 2001.9 657.2 2001.9C661.4 2001.9 665.5 1995.7 669.6 1995.7C673.8 1995.7 678.4 2001.9 682.0 2001.9C685.7 2001.6 687.7 1994.1 691.4 1994.1C695.0 1994.1 700.4 2001.9 703.8 2001.9C707.1 2001.9 708.4 1994.4 711.5 1994.1C714.6 1994.1 718.8 2000.3 722.4 2000.3C726.0 2000.3 729.4 1994.1 733.3 1994.1C737.1 1994.1 742.3 2000.3 745.7 2000.3C749.0 2000.3 750.1 1994.2 753.4 1994.1C756.8 1994.1 762.0 1999.7 765.8 1999.7C769.7 1999.6 773.1 1993.5 776.7 1993.5C780.3 1993.5 783.7 1999.7 787.6 1999.7C791.4 1999.2 796.6 1990.9 800.0 1990.4C803.3 1990.4 804.6 1996.6 807.7 1996.6C810.8 1996.5 815.2 1990.0 818.6 1989.5C821.9 1989.5 823.9 1993.5 827.9 1993.5C831.9 1993.2 838.8 1987.7 842.9 1987.6C846.9 1987.6 848.6 1993.0 852.3 1993.0C855.9 1992.6 860.9 1985.4 864.8 1985.1C868.8 1985.1 872.2 1991.4 875.8 1991.4C879.5 1991.0 883.2 1982.6 886.8 1982.6C890.5 1982.6 894.2 1991.4 897.8 1991.4C901.5 1991.3 905.2 1982.0 908.8 1982.0C912.5 1982.0 916.4 1991.3 919.8 1991.4C923.2 1991.4 925.9 1982.6 929.3 1982.6C932.7 1982.6 936.6 1991.3 940.3 1991.4C943.9 1991.4 947.3 1983.6 951.3 1983.6C955.2 1983.8 959.9 1993.0 963.8 1993.0C967.7 1993.0 971.2 1983.6 974.8 1983.6C978.5 1983.6 982.1 1993.0 985.8 1993.0C989.5 1993.0 993.7 1983.6 996.8 1983.6C1000.0 1984.4 1002.8 1995.9 1004.7 1997.7C1006.5 1997.7 1005.5 1996.8 1007.8 1994.6C1010.2 1992.4 1015.1 1984.8 1018.8 1984.5C1022.5 1984.5 1026.1 1993.0 1029.8 1993.0C1033.5 1992.6 1037.1 1982.3 1040.8 1982.0C1044.5 1982.0 1048.1 1991.2 1051.8 1991.4C1055.5 1991.4 1059.1 1983.6 1062.8 1983.6C1066.5 1983.8 1070.1 1993.0 1073.8 1993.0C1077.5 1992.8 1081.1 1982.9 1084.8 1982.6C1088.5 1982.6 1092.1 1991.4 1095.8 1991.4C1099.4 1991.2 1103.1 1981.4 1106.8 1981.4C1110.4 1982.2 1114.4 1995.8 1117.8 1996.1C1121.2 1996.1 1123.8 1983.6 1127.2 1983.6C1130.6 1983.6 1134.5 1995.8 1138.2 1996.1C1141.9 1996.1 1145.8 1985.8 1149.2 1985.8C1152.6 1985.8 1155.0 1996.0 1158.6 1996.1C1162.3 1996.1 1167.5 1986.9 1171.2 1986.7C1174.9 1986.7 1177.0 1995.2 1180.6 1995.2C1184.3 1995.2 1189.5 1986.7 1193.2 1986.7C1196.9 1986.9 1198.7 1996.1 1202.6 1996.1C1206.5 1995.9 1212.6 1985.7 1216.7 1985.1C1220.9 1985.1 1225.9 1991.7 1227.7 1993.0" stroke="#F8766D"/>
<path d="M186.5 2008.7C186.9 2008.0 187.4 2005.4 188.6 2004.5C189.8 2003.7 191.6 2003.9 193.9 2003.5C196.1 2003.2 199.8 2002.7 202.2 2002.5C204.7 2002.2 206.1 2001.8 208.5 2001.8C211.0 2002.0 214.1 2003.5 216.9 2003.5C219.7 2003.5 222.5 2002.2 225.3 2001.8C228.1 2001.5 230.9 2001.4 233.7 2001.4C236.4 2001.7 239.2 2003.5 242.0 2003.5C244.8 2003.5 247.6 2001.8 250.4 2001.4C253.2 2001.4 256.1 2001.4 258.8 2001.4C261.5 2001.8 265.3 2001.4 266.7 2003.5L267.6 2123.9C267.9 2123.9 268.4 2123.9 268.8 2123.9L270.3 2002.5C271.8 2001.4 275.0 2001.6 277.6 2001.4C280.3 2001.4 283.2 2001.4 286.0 2001.4C288.8 2001.2 291.6 2000.7 294.4 2000.4C297.2 2000.0 300.0 1999.3 302.8 1999.3C305.6 1999.5 308.4 2001.2 311.2 2001.4C313.9 2001.4 316.7 2000.4 319.5 2000.4C322.3 2000.4 325.1 2001.4 327.9 2001.4C330.7 2001.2 333.5 1999.5 336.3 1999.3C339.1 1999.3 341.9 2000.4 344.7 2000.4C347.5 2000.4 350.3 1999.5 353.0 1999.3C355.8 1999.3 358.6 1999.3 361.4 1999.3C364.2 1999.5 367.1 2000.4 369.8 2000.4C372.5 2000.4 375.9 2000.4 377.3 1999.3L378.2 1936.5L379.2 1951.1C379.8 1956.7 380.4 1965.1 381.3 1970.0C382.2 1974.9 383.2 1977.3 384.5 1980.5C385.7 1983.6 387.3 1986.8 388.7 1988.8C390.1 1990.9 390.7 1991.6 392.8 1992.6C394.9 1993.7 398.4 1994.2 401.2 1995.1C404.0 1996.1 406.8 1997.6 409.6 1998.3C412.4 1999.0 415.2 1999.3 418.0 1999.3C420.8 1999.3 423.6 1998.3 426.4 1998.3C429.2 1998.3 430.4 1999.0 434.7 1999.3C439.1 1999.7 447.4 2000.3 452.4 2000.3C457.4 2000.3 460.7 2000.0 464.8 1999.7C469.0 1999.5 473.1 1999.1 477.2 1998.8C481.4 1998.5 485.5 1998.1 489.7 1997.9C493.8 1997.6 497.9 1997.6 502.1 1997.2C506.2 1996.9 510.3 1995.8 514.5 1995.7C518.6 1995.7 522.2 1996.6 526.9 1996.6C531.5 1996.6 537.8 1996.0 542.4 1995.7C547.1 1995.4 550.7 1994.8 554.8 1994.8C559.0 1994.9 563.1 1996.5 567.2 1996.6C571.4 1996.6 575.0 1996.0 579.6 1995.7C584.3 1995.4 590.0 1994.8 595.2 1994.8C600.3 1994.9 606.0 1996.5 610.7 1996.6C615.3 1996.6 618.4 1995.7 623.1 1995.7C627.7 1995.7 633.9 1996.4 638.6 1996.6C643.3 1996.9 646.4 1997.2 651.0 1997.2C655.7 1996.7 662.4 1993.6 666.5 1993.5C670.7 1993.5 672.2 1996.3 675.8 1996.6C679.5 1996.6 683.6 1995.7 688.3 1995.7C692.9 1995.7 699.6 1996.5 703.8 1996.6C707.9 1996.6 710.5 1996.6 713.1 1996.6C715.7 1997.0 716.2 1998.7 719.3 1998.8C722.4 1998.8 727.6 1997.6 731.7 1997.2C735.8 1996.9 740.0 1996.7 744.1 1996.6C748.2 1996.6 752.4 1996.6 756.5 1996.6C760.7 1996.6 764.8 1996.6 768.9 1996.6C773.1 1996.5 777.2 1996.0 781.3 1995.7C785.5 1995.4 789.6 1995.0 793.8 1994.8C797.9 1994.5 802.0 1994.3 806.2 1994.1C810.3 1993.9 814.5 1993.5 818.6 1993.5C822.7 1993.5 826.2 1994.1 831.0 1994.1C835.8 1993.8 842.7 1991.8 847.6 1991.4C852.4 1991.4 855.9 1992.0 860.1 1992.0C864.3 1992.0 868.5 1991.4 872.7 1991.4C876.9 1991.6 881.1 1993.0 885.3 1993.0C889.5 1992.9 893.7 1991.1 897.8 1990.8C902.0 1990.8 906.2 1991.1 910.4 1991.4C914.6 1991.8 918.8 1993.0 923.0 1993.0C927.2 1993.0 931.4 1991.6 935.5 1991.4C939.7 1991.4 943.9 1991.5 948.1 1992.0C952.3 1992.6 956.5 1994.0 960.7 1994.6C964.9 1995.1 969.1 1994.9 973.2 1995.2C977.4 1995.5 981.6 1996.1 985.8 1996.1C990.0 1996.1 994.2 1995.2 998.4 1995.2C1002.6 1995.2 1006.8 1996.1 1011.0 1996.1C1015.1 1996.0 1019.3 1994.6 1023.5 1994.6C1027.7 1994.6 1031.9 1996.0 1036.1 1996.1C1040.3 1996.1 1044.5 1995.2 1048.7 1995.2C1052.8 1995.2 1057.0 1996.1 1061.2 1996.1C1065.4 1996.1 1069.6 1995.3 1073.8 1995.2C1078.0 1995.2 1082.2 1995.2 1086.4 1995.2C1090.5 1995.2 1095.3 1995.2 1098.9 1995.2C1102.6 1995.5 1105.2 1996.9 1108.4 1997.1C1111.5 1997.1 1114.1 1996.1 1117.8 1996.1C1121.4 1996.3 1126.2 1997.5 1130.3 1998.3C1134.5 1999.1 1138.7 2000.5 1142.9 2000.8C1147.1 2000.8 1151.3 2000.2 1155.5 2000.2C1159.7 2000.2 1163.9 2000.8 1168.0 2000.8C1172.2 2000.7 1177.0 1999.9 1180.6 1999.3C1184.3 1998.6 1186.4 1997.4 1190.0 1997.1C1193.7 1997.1 1198.4 1997.1 1202.6 1997.1C1206.8 1996.9 1211.5 1996.3 1215.2 1996.1C1218.8 1996.1 1221.7 1996.1 1224.6 1996.1C1227.5 1996.1 1231.2 1996.1 1232.5 1996.1" stroke="#00BA38"/>
<path d="M226.3 1998.3C227.9 1997.9 232.8 1996.5 235.7 1996.2C238.7 1996.2 241.3 1996.2 244.1 1996.2C246.9 1996.3 249.7 1997.0 252.5 1997.2C255.3 1997.2 258.1 1997.2 260.9 1997.2C263.7 1997.0 266.8 1995.8 269.3 1995.8C271.7 1995.8 273.1 1997.1 275.5 1997.2C278.0 1997.2 281.1 1996.7 283.9 1996.2C286.7 1995.6 289.5 1994.3 292.3 1994.1C295.1 1994.1 297.9 1994.9 300.7 1995.1C303.5 1995.1 306.3 1995.1 309.1 1995.1C311.9 1995.1 314.6 1995.1 317.4 1995.1C320.2 1994.9 323.0 1994.3 325.8 1994.1C328.6 1994.1 331.4 1994.1 334.2 1994.1C337.0 1994.1 339.8 1994.1 342.6 1994.1C345.4 1994.3 348.2 1994.6 351.0 1995.1C353.7 1995.6 356.5 1997.2 359.3 1997.2C362.1 1997.2 364.9 1995.5 367.7 1995.1C370.5 1995.1 373.3 1995.1 376.1 1995.1C378.9 1995.1 381.7 1995.1 384.5 1995.1C387.3 1995.3 390.1 1996.2 392.8 1996.2C395.6 1996.0 398.4 1994.1 401.2 1994.1C404.0 1994.1 407.2 1996.0 409.6 1996.2C412.0 1996.2 414.2 1996.0 415.9 1995.1C417.6 1994.3 418.3 1991.1 419.7 1990.9C421.1 1990.9 422.6 1993.7 424.3 1994.1C425.9 1994.1 428.1 1993.0 429.5 1993.0C430.9 1993.2 431.6 1995.1 432.6 1995.1C433.7 1994.8 434.4 1991.3 435.8 1990.9C437.2 1990.9 438.2 1992.4 441.0 1993.0C443.8 1993.7 450.0 1994.8 452.4 1994.8C454.8 1994.4 454.0 1991.1 455.5 1991.0C457.1 1991.0 458.6 1993.4 461.7 1994.1C464.8 1994.9 470.0 1995.2 474.1 1995.7C478.3 1996.2 481.9 1997.2 486.5 1997.2C491.2 1997.1 496.9 1995.0 502.1 1994.8C507.2 1994.8 512.4 1995.7 517.6 1995.7C522.8 1995.7 527.9 1994.8 533.1 1994.8C538.3 1994.8 543.4 1995.4 548.6 1995.7C553.8 1996.0 559.5 1996.6 564.1 1996.6C568.8 1996.3 573.4 1993.5 576.5 1993.5C579.6 1993.6 579.6 1996.9 582.7 1997.2C585.8 1997.2 590.5 1995.8 595.2 1995.7C599.8 1995.7 605.5 1996.6 610.7 1996.6C615.8 1996.5 621.0 1995.4 626.2 1995.1C631.4 1994.8 637.6 1994.8 641.7 1994.8C645.8 1995.1 648.9 1996.0 651.0 1997.2C653.1 1998.4 652.6 2001.9 654.1 2001.9C655.7 2001.9 657.2 1998.1 660.3 1997.2C663.4 1996.6 668.1 1997.0 672.7 1996.6C677.4 1996.3 683.1 1995.4 688.3 1995.1C693.4 1994.8 698.6 1994.8 703.8 1994.8C708.9 1994.8 714.1 1994.8 719.3 1994.8C724.5 1994.9 729.6 1995.7 734.8 1995.7C740.0 1995.6 745.7 1994.7 750.3 1994.1C755.0 1993.6 758.6 1992.7 762.7 1992.6C766.9 1992.6 771.0 1993.0 775.1 1993.5C779.3 1994.0 782.4 1994.8 787.6 1995.7C792.7 1996.6 801.0 1998.8 806.2 1998.8C811.3 1998.8 814.5 1996.5 818.6 1995.7C822.7 1994.9 826.2 1994.3 831.0 1994.1C835.8 1994.1 842.7 1994.6 847.6 1994.6C852.4 1994.4 855.9 1993.7 860.1 1993.3C864.3 1992.9 868.5 1992.4 872.7 1992.4C876.9 1992.5 881.1 1993.5 885.3 1993.9C889.5 1994.4 893.7 1995.2 897.8 1995.2C902.0 1995.2 906.2 1994.3 910.4 1993.9C914.6 1993.6 919.3 1993.0 923.0 1993.0C926.6 1993.1 929.8 1994.0 932.4 1994.6C935.0 1995.1 936.6 1996.1 938.7 1996.1C940.8 1996.0 942.4 1994.6 945.0 1993.9C947.6 1993.3 950.7 1992.3 954.4 1992.0C958.1 1992.0 962.8 1992.4 967.0 1992.4C971.2 1992.3 976.4 1991.7 979.5 1991.4C982.7 1991.2 983.7 1990.8 985.8 1990.8C987.9 1991.1 989.0 1992.5 992.1 1993.0C995.2 1993.5 1000.5 1993.9 1004.7 1993.9C1008.9 1993.9 1013.0 1993.1 1017.2 1993.0C1021.4 1993.0 1025.6 1993.0 1029.8 1993.0C1034.0 1993.0 1038.2 1993.0 1042.4 1993.0C1046.6 1993.1 1050.7 1993.6 1054.9 1993.9C1059.1 1994.3 1063.3 1995.2 1067.5 1995.2C1071.7 1995.2 1075.9 1994.3 1080.1 1993.9C1084.3 1993.6 1088.5 1993.0 1092.6 1993.0C1096.8 1993.0 1102.1 1993.1 1105.2 1993.9C1108.4 1994.7 1109.4 1997.5 1111.5 1997.7C1113.6 1997.7 1114.6 1995.5 1117.8 1995.2C1120.9 1995.2 1126.2 1996.1 1130.3 1996.1C1134.5 1996.1 1139.8 1995.6 1142.9 1995.2C1146.1 1994.8 1147.1 1993.9 1149.2 1993.9C1151.3 1993.9 1152.3 1995.2 1155.5 1995.2C1158.6 1995.0 1163.9 1993.4 1168.0 1993.0C1172.2 1993.0 1176.4 1993.0 1180.6 1993.0C1184.8 1993.1 1189.0 1993.9 1193.2 1993.9C1197.4 1993.7 1202.1 1992.0 1205.8 1991.4C1209.4 1990.8 1212.0 1990.5 1215.2 1990.5C1218.3 1990.6 1221.7 1991.7 1224.6 1992.0C1227.5 1992.4 1231.2 1992.3 1232.5 1992.4" stroke="#619CFF"/>
</g>
<rect x="132.20" y="1925.74" width="1153.10" height="232.80" fill="none" stroke="#333333" stroke-width="1.6"/>
<line x1="131.40" y1="1925.74" x2="1286.10" y2="1925.74" stroke="#333333" stroke-width="3.2"/>
<line x1="122.9" y1="1943.10" x2="132.20" y2="1943.10" stroke="#333333" stroke-width="2.8"/>
<text x="114.75" y="1953.60" font-size="25.2" fill="#4D4D4D" text-anchor="end">9</text>
<line x1="122.9" y1="1979.18" x2="132.20" y2="1979.18" stroke="#333333" stroke-width="2.8"/>
<text x="114.75" y="1989.68" font-size="25.2" fill="#4D4D4D" text-anchor="end">8</text>
<line x1="122.9" y1="2015.26" x2="132.20" y2="2015.26" stroke="#333333" stroke-width="2.8"/>
<text x="114.75" y="2025.76" font-size="25.2" fill="#4D4D4D" text-anchor="end">7</text>
<line x1="122.9" y1="2051.34" x2="132.20" y2="2051.34" stroke="#333333" stroke-width="2.8"/>
<text x="114.75" y="2061.84" font-size="25.2" fill="#4D4D4D" text-anchor="end">6</text>
<line x1="122.9" y1="2087.42" x2="132.20" y2="2087.42" stroke="#333333" stroke-width="2.8"/>
<text x="114.75" y="2097.92" font-size="25.2" fill="#4D4D4D" text-anchor="end">5</text>
<line x1="122.9" y1="2123.50" x2="132.20" y2="2123.50" stroke="#333333" stroke-width="2.8"/>
<text x="114.75" y="2134.00" font-size="25.2" fill="#4D4D4D" text-anchor="end">4</text>
<line x1="171.75" y1="2158.54" x2="171.75" y2="2167.4" stroke="#333333" stroke-width="2.8"/>
<text transform="translate(174.35,2273.6) rotate(-90)" font-size="24.9" fill="#4D4D4D">21–Sep</text>
<line x1="215.51" y1="2158.54" x2="215.51" y2="2167.4" stroke="#333333" stroke-width="2.8"/>
<text transform="translate(218.11,2273.6) rotate(-90)" font-size="24.9" fill="#4D4D4D">23–Sep</text>
<line x1="259.27" y1="2158.54" x2="259.27" y2="2167.4" stroke="#333333" stroke-width="2.8"/>
<text transform="translate(261.87,2273.6) rotate(-90)" font-size="24.9" fill="#4D4D4D">25–Sep</text>
<line x1="303.02" y1="2158.54" x2="303.02" y2="2167.4" stroke="#333333" stroke-width="2.8"/>
<text transform="translate(305.62,2273.6) rotate(-90)" font-size="24.9" fill="#4D4D4D">27–Sep</text>
<line x1="346.78" y1="2158.54" x2="346.78" y2="2167.4" stroke="#333333" stroke-width="2.8"/>
<text transform="translate(349.38,2273.6) rotate(-90)" font-size="24.9" fill="#4D4D4D">29–Sep</text>
<line x1="390.54" y1="2158.54" x2="390.54" y2="2167.4" stroke="#333333" stroke-width="2.8"/>
<text transform="translate(393.14,2273.6) rotate(-90)" font-size="24.9" fill="#4D4D4D">01–Oct</text>
<line x1="434.30" y1="2158.54" x2="434.30" y2="2167.4" stroke="#333333" stroke-width="2.8"/>
<text transform="translate(436.90,2273.6) rotate(-90)" font-size="24.9" fill="#4D4D4D">03–Oct</text>
<line x1="478.06" y1="2158.54" x2="478.06" y2="2167.4" stroke="#333333" stroke-width="2.8"/>
<text transform="translate(480.66,2273.6) rotate(-90)" font-size="24.9" fill="#4D4D4D">05–Oct</text>
<line x1="521.81" y1="2158.54" x2="521.81" y2="2167.4" stroke="#333333" stroke-width="2.8"/>
<text transform="translate(524.41,2273.6) rotate(-90)" font-size="24.9" fill="#4D4D4D">07–Oct</text>
<line x1="565.57" y1="2158.54" x2="565.57" y2="2167.4" stroke="#333333" stroke-width="2.8"/>
<text transform="translate(568.17,2273.6) rotate(-90)" font-size="24.9" fill="#4D4D4D">09–Oct</text>
<line x1="609.33" y1="2158.54" x2="609.33" y2="2167.4" stroke="#333333" stroke-width="2.8"/>
<text transform="translate(611.93,2273.6) rotate(-90)" font-size="24.9" fill="#4D4D4D">11–Oct</text>
<line x1="653.09" y1="2158.54" x2="653.09" y2="2167.4" stroke="#333333" stroke-width="2.8"/>
<text transform="translate(655.69,2273.6) rotate(-90)" font-size="24.9" fill="#4D4D4D">13–Oct</text>
<line x1="696.85" y1="2158.54" x2="696.85" y2="2167.4" stroke="#333333" stroke-width="2.8"/>
<text transform="translate(699.45,2273.6) rotate(-90)" font-size="24.9" fill="#4D4D4D">15–Oct</text>
<line x1="740.60" y1="2158.54" x2="740.60" y2="2167.4" stroke="#333333" stroke-width="2.8"/>
<text transform="translate(743.20,2273.6) rotate(-90)" font-size="24.9" fill="#4D4D4D">17–Oct</text>
<line x1="784.36" y1="2158.54" x2="784.36" y2="2167.4" stroke="#333333" stroke-width="2.8"/>
<text transform="translate(786.96,2273.6) rotate(-90)" font-size="24.9" fill="#4D4D4D">19–Oct</text>
<line x1="828.12" y1="2158.54" x2="828.12" y2="2167.4" stroke="#333333" stroke-width="2.8"/>
<text transform="translate(830.72,2273.6) rotate(-90)" font-size="24.9" fill="#4D4D4D">21–Oct</text>
<line x1="871.88" y1="2158.54" x2="871.88" y2="2167.4" stroke="#333333" stroke-width="2.8"/>
<text transform="translate(874.48,2273.6) rotate(-90)" font-size="24.9" fill="#4D4D4D">23–Oct</text>
<line x1="915.64" y1="2158.54" x2="915.64" y2="2167.4" stroke="#333333" stroke-width="2.8"/>
<text transform="translate(918.24,2273.6) rotate(-90)" font-size="24.9" fill="#4D4D4D">25–Oct</text>
<line x1="959.39" y1="2158.54" x2="959.39" y2="2167.4" stroke="#333333" stroke-width="2.8"/>
<text transform="translate(961.99,2273.6) rotate(-90)" font-size="24.9" fill="#4D4D4D">27–Oct</text>
<line x1="1003.15" y1="2158.54" x2="1003.15" y2="2167.4" stroke="#333333" stroke-width="2.8"/>
<text transform="translate(1005.75,2273.6) rotate(-90)" font-size="24.9" fill="#4D4D4D">28–Oct</text>
<line x1="1046.91" y1="2158.54" x2="1046.91" y2="2167.4" stroke="#333333" stroke-width="2.8"/>
<text transform="translate(1049.51,2273.6) rotate(-90)" font-size="24.9" fill="#4D4D4D">30–Oct</text>
<line x1="1090.67" y1="2158.54" x2="1090.67" y2="2167.4" stroke="#333333" stroke-width="2.8"/>
<text transform="translate(1093.27,2273.6) rotate(-90)" font-size="24.9" fill="#4D4D4D">01–Nov</text>
<line x1="1134.43" y1="2158.54" x2="1134.43" y2="2167.4" stroke="#333333" stroke-width="2.8"/>
<text transform="translate(1137.03,2273.6) rotate(-90)" font-size="24.9" fill="#4D4D4D">03–Nov</text>
<line x1="1178.18" y1="2158.54" x2="1178.18" y2="2167.4" stroke="#333333" stroke-width="2.8"/>
<text transform="translate(1180.78,2273.6) rotate(-90)" font-size="24.9" fill="#4D4D4D">05–Nov</text>
<line x1="1221.94" y1="2158.54" x2="1221.94" y2="2167.4" stroke="#333333" stroke-width="2.8"/>
<text transform="translate(1224.54,2273.6) rotate(-90)" font-size="24.9" fill="#4D4D4D">07–Nov</text>
<line x1="1265.70" y1="2158.54" x2="1265.70" y2="2167.4" stroke="#333333" stroke-width="2.8"/>
<text transform="translate(1268.30,2273.6) rotate(-90)" font-size="24.9" fill="#4D4D4D">09–Nov</text>
<text transform="translate(608.63,2341.20) scale(0.9879,1)" font-size="31.69" fill="#000" >Date (2019)</text>
<text transform="translate(24.7,1479.6) rotate(-90) scale(0.93,1)" font-size="32.2" fill="#000">Value</text>
</svg></body></html>
